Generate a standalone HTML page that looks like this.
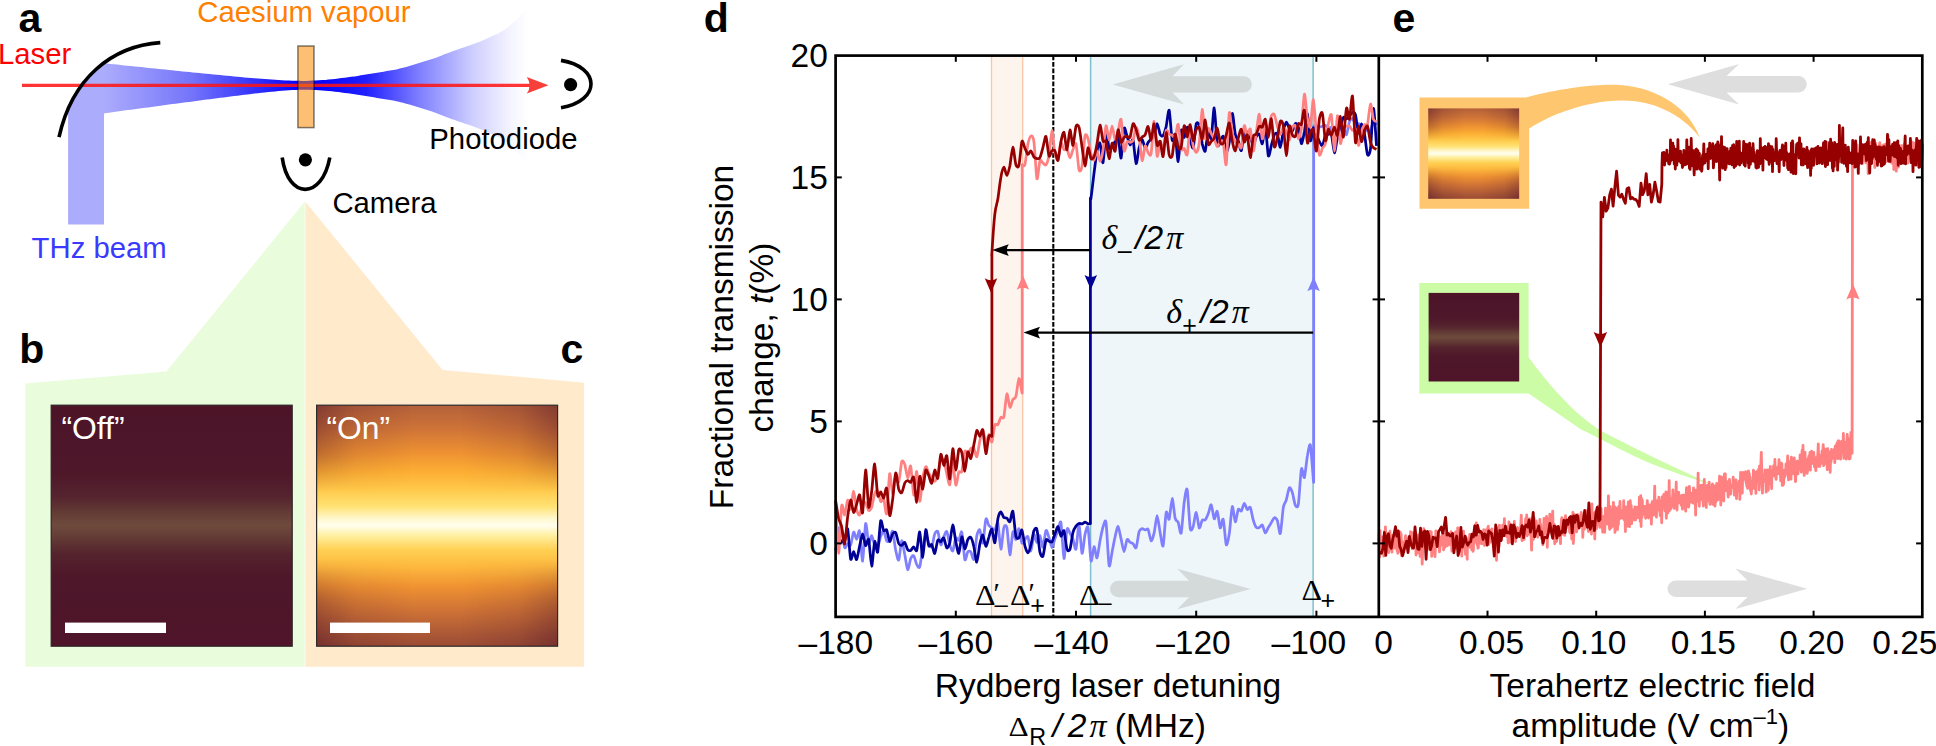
<!DOCTYPE html>
<html><head><meta charset="utf-8"><title>Figure</title>
<style>
html,body{margin:0;padding:0;background:#fff;}
svg{display:block;font-family:"Liberation Sans",Arial,Helvetica,sans-serif;}
.lbl{font-size:29.3px;}
.pl{font-size:41px;font-weight:bold;}
.tk{font-size:33.5px;}
.ser{font-family:"Liberation Serif","DejaVu Serif",serif;}
.sans{font-family:"Liberation Sans",Arial,Helvetica,sans-serif;}
</style></head><body>
<svg width="1936" height="746" viewBox="0 0 1936 746">
<defs>
<linearGradient id="gL" x1="103.5" y1="0" x2="300" y2="0" gradientUnits="userSpaceOnUse">
<stop offset="0" stop-color="#acacfc"/><stop offset="0.45" stop-color="#7474fb"/><stop offset="0.8" stop-color="#2c2cfd"/><stop offset="1" stop-color="#0000ff"/>
</linearGradient>
<linearGradient id="gR" x1="312" y1="0" x2="528" y2="0" gradientUnits="userSpaceOnUse">
<stop offset="0" stop-color="#0000ff"/><stop offset="0.25" stop-color="#2020ff"/><stop offset="0.5" stop-color="#8080ff"/><stop offset="0.75" stop-color="#d0d0ff"/><stop offset="0.93" stop-color="#f6f6ff"/><stop offset="1" stop-color="#ffffff"/>
</linearGradient>
<linearGradient id="gOn" x1="0" y1="0" x2="0" y2="1">
<stop offset="0" stop-color="#b4603a"/><stop offset="0.1" stop-color="#cf7438"/><stop offset="0.2" stop-color="#ee9232"/><stop offset="0.28" stop-color="#fdb034"/><stop offset="0.35" stop-color="#ffc94a"/><stop offset="0.42" stop-color="#ffe273"/><stop offset="0.47" stop-color="#fff7cc"/><stop offset="0.5" stop-color="#fffeee"/><stop offset="0.54" stop-color="#fff0a2"/><stop offset="0.6" stop-color="#ffd052"/><stop offset="0.67" stop-color="#fdb83e"/><stop offset="0.75" stop-color="#f09332"/><stop offset="0.85" stop-color="#cf7336"/><stop offset="0.95" stop-color="#ab5836"/><stop offset="1" stop-color="#9c4c35"/>
</linearGradient>
<linearGradient id="gSide" x1="0" y1="0" x2="1" y2="0">
<stop offset="0" stop-color="#55182a" stop-opacity="0.52"/><stop offset="0.16" stop-color="#55182a" stop-opacity="0.18"/><stop offset="0.4" stop-color="#55182a" stop-opacity="0"/><stop offset="0.6" stop-color="#55182a" stop-opacity="0"/><stop offset="0.84" stop-color="#55182a" stop-opacity="0.18"/><stop offset="1" stop-color="#55182a" stop-opacity="0.52"/>
</linearGradient>
<linearGradient id="gMaskV" x1="0" y1="0" x2="0" y2="1">
<stop offset="0" stop-color="#fff"/><stop offset="0.2" stop-color="#999"/><stop offset="0.36" stop-color="#000"/><stop offset="0.64" stop-color="#000"/><stop offset="0.8" stop-color="#999"/><stop offset="1" stop-color="#fff"/>
</linearGradient>
<mask id="mV" maskContentUnits="objectBoundingBox"><rect x="0" y="0" width="1" height="1" fill="url(#gMaskV)"/></mask>
<linearGradient id="gOff" x1="0" y1="0" x2="0" y2="1">
<stop offset="0" stop-color="#4d1428"/><stop offset="0.28" stop-color="#4e172a"/><stop offset="0.38" stop-color="#55242e"/><stop offset="0.45" stop-color="#643d36"/><stop offset="0.5" stop-color="#6e4a3c"/><stop offset="0.55" stop-color="#633b35"/><stop offset="0.62" stop-color="#54222d"/><stop offset="0.72" stop-color="#4e172a"/><stop offset="1" stop-color="#4f1429"/>
</linearGradient>
<clipPath id="cMir"><path d="M160.3,42.6 C112,46 72,78 59,137.2 L59,240 L320,240 L320,42.6 Z"/></clipPath>
</defs>
<rect width="1936" height="746" fill="#fff"/>

<g id="panel-a">
<g clip-path="url(#cMir)">
<rect x="50" y="40" width="54" height="184.5" fill="#acacfc"/>
<rect x="50" y="40" width="18.1" height="190" fill="#fff"/>
<path fill="url(#gL)" d="M103.6,63.2 L107.0,63.6 L110.5,63.9 L113.9,64.3 L117.3,64.6 L120.8,65.0 L124.2,65.4 L127.6,65.7 L131.0,66.1 L134.5,66.4 L137.9,66.8 L141.3,67.1 L144.8,67.5 L148.2,67.9 L151.6,68.2 L155.1,68.6 L158.5,68.9 L161.9,69.3 L165.3,69.6 L168.8,70.0 L172.2,70.3 L175.6,70.7 L179.1,71.0 L182.5,71.4 L185.9,71.7 L189.4,72.1 L192.8,72.4 L196.2,72.8 L199.7,73.1 L203.1,73.4 L206.5,73.8 L209.9,74.1 L213.4,74.5 L216.8,74.8 L220.2,75.1 L223.7,75.5 L227.1,75.8 L230.5,76.1 L234.0,76.4 L237.4,76.7 L240.8,77.1 L244.3,77.4 L247.7,77.7 L251.1,78.0 L254.5,78.3 L258.0,78.5 L261.4,78.8 L264.8,79.1 L268.3,79.3 L271.7,79.6 L275.1,79.8 L278.6,80.0 L282.0,80.2 L285.4,80.4 L288.8,80.5 L292.3,80.7 L295.7,80.8 L299.1,80.8 L302.6,80.9 L306.0,80.9 L306.0,89.7 L302.6,89.7 L299.1,89.8 L295.7,89.9 L292.3,90.1 L288.8,90.3 L285.4,90.5 L282.0,90.8 L278.6,91.1 L275.1,91.4 L271.7,91.7 L268.3,92.1 L264.8,92.5 L261.4,92.8 L258.0,93.2 L254.5,93.6 L251.1,94.0 L247.7,94.4 L244.3,94.8 L240.8,95.3 L237.4,95.7 L234.0,96.1 L230.5,96.5 L227.1,97.0 L223.7,97.4 L220.2,97.8 L216.8,98.3 L213.4,98.7 L209.9,99.2 L206.5,99.6 L203.1,100.1 L199.7,100.5 L196.2,101.0 L192.8,101.4 L189.4,101.9 L185.9,102.3 L182.5,102.8 L179.1,103.2 L175.6,103.7 L172.2,104.1 L168.8,104.6 L165.3,105.1 L161.9,105.5 L158.5,106.0 L155.1,106.4 L151.6,106.9 L148.2,107.4 L144.8,107.8 L141.3,108.3 L137.9,108.7 L134.5,109.2 L131.0,109.7 L127.6,110.1 L124.2,110.6 L120.8,111.1 L117.3,111.5 L113.9,112.0 L110.5,112.4 L107.0,112.9 L103.6,113.4 Z"/>
</g>
<path fill="url(#gR)" d="M306.0,80.9 L309.2,80.8 L312.5,80.6 L315.7,80.5 L318.9,80.3 L322.2,80.1 L325.4,79.9 L328.6,79.6 L331.9,79.3 L335.1,78.9 L338.3,78.5 L341.6,78.1 L344.8,77.7 L348.0,77.3 L351.2,76.8 L354.5,76.4 L357.7,75.9 L360.9,75.3 L364.2,74.8 L367.4,74.3 L370.6,73.8 L373.9,73.3 L377.1,72.7 L380.3,72.2 L383.6,71.7 L386.8,71.1 L390.0,70.6 L393.3,70.0 L396.5,69.4 L399.7,68.6 L403.0,67.8 L406.2,66.9 L409.4,66.0 L412.7,65.0 L415.9,64.0 L419.1,63.0 L422.3,62.1 L425.6,61.1 L428.8,60.1 L432.0,59.0 L435.3,57.9 L438.5,56.7 L441.7,55.4 L445.0,54.1 L448.2,52.9 L451.4,51.7 L454.7,50.5 L457.9,49.4 L461.1,48.3 L464.4,47.2 L467.6,46.1 L470.8,45.0 L474.1,43.8 L477.3,42.6 L480.5,41.4 L483.8,40.0 L487.0,38.6 L490.2,37.1 L493.4,35.6 L496.7,34.2 L499.9,32.5 L503.1,30.6 L506.4,28.4 L509.6,26.0 L512.8,23.1 L516.1,19.9 L519.3,16.4 L522.5,12.6 L525.8,9.4 L529.0,6.9 L529.0,163.7 L525.8,161.2 L522.5,158.0 L519.3,154.2 L516.1,150.7 L512.8,147.5 L509.6,144.6 L506.4,142.2 L503.1,140.0 L499.9,138.1 L496.7,136.4 L493.4,135.0 L490.2,133.5 L487.0,132.0 L483.8,130.6 L480.5,129.2 L477.3,128.0 L474.1,126.8 L470.8,125.6 L467.6,124.5 L464.4,123.4 L461.1,122.3 L457.9,121.2 L454.7,120.1 L451.4,118.9 L448.2,117.7 L445.0,116.5 L441.7,115.2 L438.5,113.9 L435.3,112.7 L432.0,111.6 L428.8,110.5 L425.6,109.5 L422.3,108.5 L419.1,107.6 L415.9,106.6 L412.7,105.6 L409.4,104.6 L406.2,103.7 L403.0,102.8 L399.7,102.0 L396.5,101.2 L393.3,100.6 L390.0,100.0 L386.8,99.5 L383.6,98.9 L380.3,98.4 L377.1,97.9 L373.9,97.3 L370.6,96.8 L367.4,96.3 L364.2,95.8 L360.9,95.3 L357.7,94.7 L354.5,94.2 L351.2,93.8 L348.0,93.3 L344.8,92.9 L341.6,92.5 L338.3,92.1 L335.1,91.7 L331.9,91.3 L328.6,91.0 L325.4,90.7 L322.2,90.5 L318.9,90.3 L315.7,90.1 L312.5,90.0 L309.2,89.8 L306.0,89.7 Z"/>
<line x1="22" y1="85.4" x2="531" y2="85.4" stroke="#ff1414" stroke-opacity="0.86" stroke-width="3.1"/>
<path fill="#f7403a" d="M548.5,85.2 L526.8,76.9 Q532.5,85.2 526.8,93.6 Z"/>
<rect x="297.9" y="46" width="16.1" height="81.6" fill="#fb8b02" fill-opacity="0.55" stroke="#000" stroke-opacity="0.5" stroke-width="1.5"/>
<path fill="none" stroke="#000" stroke-width="3.6" d="M160.3,42.6 C112,46 72,78 59,137.2"/>
<circle cx="570.6" cy="84.6" r="6.6" fill="#000"/>
<path fill="none" stroke="#000" stroke-width="3.6" d="M561,60.4 C601,67 601,101 561,107.8"/>
<circle cx="305.4" cy="159.8" r="6.6" fill="#000"/>
<path fill="none" stroke="#000" stroke-width="3.6" d="M282.2,157.5 C288,200 322,200 329.8,157.5"/>
<text class="pl" x="18.4" y="31.6">a</text>
<text class="lbl" x="-2.0" y="64.3" fill="#ff0000">Laser</text>
<text class="lbl" x="197.3" y="21.7" fill="#ff7f00">Caesium vapour</text>
<text class="lbl" x="429.3" y="149.3">Photodiode</text>
<text class="lbl" x="332.4" y="212.7">Camera</text>
<text class="lbl" x="31.6" y="257.8" fill="#3a3aff">THz beam</text>
</g>
<g id="panel-bc">
<path fill="#e9fddc" d="M304.7,201.7 L166.4,371.5 L25.3,383.5 L25.3,666.8 L304.7,666.8 Z"/>
<path fill="#ffeacb" d="M305.4,201.7 L442.6,370 L584.1,382.7 L584.1,666.8 L305.4,666.8 Z"/>
<rect x="51.2" y="405.2" width="241" height="241" fill="url(#gOff)" stroke="#2e2226" stroke-width="1.2"/>
<rect x="316.6" y="405.2" width="241" height="241" fill="url(#gOn)"/>
<rect x="316.6" y="405.2" width="241" height="241" fill="url(#gSide)" mask="url(#mV)"/>
<rect x="316.6" y="405.2" width="241" height="241" fill="none" stroke="#2e2a2a" stroke-width="1.2"/>
<rect x="65" y="622.6" width="101" height="10.4" fill="#fff"/>
<rect x="330" y="622.6" width="100" height="10.4" fill="#fff"/>
<text x="61.5" y="438.8" fill="#fff" style="font-size:31.8px">“Off”</text>
<text x="326.5" y="438.8" fill="#fff" style="font-size:31.8px">“On”</text>
<text class="pl" x="19.2" y="362.8">b</text>
<text class="pl" x="560.4" y="362.8">c</text>
</g>
<g id="panel-d">
<rect x="991.5" y="55.6" width="31.1" height="561.3" fill="#fef4ee"/>
<line x1="991.5" y1="55.6" x2="991.5" y2="616.9" stroke="#f8c6a4" stroke-width="1.3"/>
<line x1="1022.7" y1="55.6" x2="1022.7" y2="616.9" stroke="#f8c6a4" stroke-width="1.3"/>
<rect x="1090.4" y="55.6" width="222.8" height="561.3" fill="#eff6f9"/>
<line x1="1090.6" y1="55.6" x2="1090.6" y2="616.9" stroke="#7fc0cc" stroke-width="1.5"/>
<line x1="1313.1" y1="55.6" x2="1313.1" y2="616.9" stroke="#7fc0cc" stroke-width="1.5"/>
<path fill="#cfd3d5" fill-opacity="0.85" d="M1112.7,84.4 L1184.1,64.2 L1172.5,76.2 L1243.6,76.2 A8.2,8.2 0 0 1 1243.6,92.60000000000001 L1172.5,92.60000000000001 L1184.1,104.60000000000001 Z"/>
<path fill="#cfd3d5" fill-opacity="0.85" d="M1250.5,589 L1177.3,568.8 L1189,580.8 L1118.2,580.8 A8.2,8.2 0 0 0 1118.2,597.2 L1189,597.2 L1177.3,609.2 Z"/>
<line x1="1053.3" y1="55.6" x2="1053.3" y2="616.9" stroke="#000" stroke-width="2.1" stroke-dasharray="4.6 1.9"/>
<path fill="none" stroke="#8080ff" stroke-width="2.75" stroke-linejoin="round" d="M835.6,544.0 C836.0,542.1 837.9,530.4 838.6,528.6 C839.4,526.8 840.9,527.0 841.6,529.3 C842.4,531.7 843.9,545.7 844.6,547.5 C845.4,549.3 846.9,544.0 847.6,543.7 C848.4,543.4 849.9,546.5 850.6,545.1 C851.4,543.7 852.9,532.9 853.6,532.1 C854.4,531.4 855.9,539.5 856.6,539.3 C857.4,539.2 858.9,528.4 859.6,531.1 C860.4,533.8 861.9,562.1 862.6,561.1 C863.4,560.2 864.9,525.9 865.6,523.7 C866.4,521.4 867.9,541.8 868.7,543.3 C869.4,544.8 870.9,535.3 871.7,535.6 C872.4,535.8 873.9,543.7 874.7,545.2 C875.4,546.6 876.9,548.4 877.7,547.3 C878.4,546.2 879.9,538.5 880.7,536.5 C881.4,534.4 882.9,530.2 883.7,530.7 C884.4,531.3 885.9,539.8 886.7,541.0 C887.4,542.1 888.9,541.2 889.7,540.0 C890.4,538.8 891.9,529.9 892.7,531.2 C893.4,532.5 894.9,546.8 895.7,550.4 C896.5,554.0 898.0,561.3 898.7,560.1 C899.5,558.9 901.0,541.4 901.7,540.7 C902.5,540.0 904.0,550.7 904.7,554.3 C905.5,557.9 907.0,569.2 907.7,569.7 C908.5,570.3 910.0,560.3 910.7,558.5 C911.5,556.8 913.0,555.0 913.7,555.7 C914.5,556.4 916.0,563.0 916.7,564.4 C917.5,565.8 919.0,569.0 919.7,566.9 C920.5,564.8 922.0,551.7 922.7,547.6 C923.5,543.6 925.0,535.2 925.8,534.7 C926.5,534.2 928.0,542.1 928.8,543.7 C929.5,545.2 931.0,548.1 931.8,546.9 C932.5,545.6 934.0,535.7 934.8,533.8 C935.5,531.9 937.0,530.1 937.8,531.5 C938.5,532.8 940.0,544.2 940.8,544.9 C941.5,545.6 943.0,538.6 943.8,536.9 C944.5,535.3 946.0,530.5 946.8,531.5 C947.5,532.5 949.0,542.4 949.8,544.8 C950.5,547.2 952.0,551.8 952.8,550.9 C953.5,550.1 955.0,539.3 955.8,538.0 C956.6,536.7 958.1,541.0 958.8,540.3 C959.6,539.5 961.1,529.7 961.8,532.1 C962.6,534.5 964.1,557.1 964.8,559.5 C965.6,562.0 967.1,552.8 967.8,551.8 C968.6,550.8 970.1,550.8 970.8,551.8 C971.6,552.7 973.1,561.1 973.8,559.2 C974.6,557.2 976.1,539.6 976.8,535.9 C977.6,532.2 979.1,528.9 979.8,529.8 C980.6,530.7 982.1,544.5 982.8,543.1 C983.6,541.8 985.1,521.2 985.9,519.0 C986.6,516.8 988.1,524.4 988.9,525.6 C989.6,526.7 991.1,527.3 991.9,527.9 C992.6,528.4 994.1,530.5 994.9,530.0 C995.6,529.4 997.1,521.0 997.9,523.4 C998.6,525.7 1000.1,548.6 1000.9,549.1 C1001.6,549.6 1003.1,530.1 1003.9,527.4 C1004.6,524.7 1006.1,524.3 1006.9,527.8 C1007.6,531.2 1009.1,554.4 1009.9,554.9 C1010.6,555.5 1012.1,533.9 1012.9,532.0 C1013.6,530.1 1015.1,539.9 1015.9,539.5 C1016.7,539.1 1018.2,528.2 1018.9,528.6 C1019.7,529.1 1021.2,541.7 1021.9,543.0 C1022.7,544.4 1024.2,540.3 1024.9,539.6 C1025.7,538.8 1027.2,535.3 1027.9,536.8 C1028.7,538.2 1030.2,551.3 1030.9,551.0 C1031.7,550.7 1033.2,535.6 1033.9,534.6 C1034.7,533.5 1036.2,542.3 1036.9,542.5 C1037.7,542.6 1039.2,535.0 1039.9,535.6 C1040.7,536.2 1042.2,548.0 1042.9,547.3 C1043.7,546.7 1045.2,531.8 1046.0,530.5 C1046.7,529.3 1048.2,535.4 1049.0,537.5 C1049.7,539.6 1051.2,547.4 1052.0,547.6 C1052.7,547.7 1054.2,540.7 1055.0,538.6 C1055.7,536.4 1057.2,532.4 1058.0,530.4 C1058.7,528.4 1060.2,519.1 1061.0,522.7 C1061.7,526.2 1063.2,557.7 1064.0,558.5 C1064.7,559.4 1066.2,532.5 1067.0,529.4 C1067.7,526.2 1069.2,532.0 1070.0,533.2 C1070.7,534.4 1072.2,537.1 1073.0,539.1 C1073.7,541.1 1075.2,551.0 1076.0,549.1 C1076.8,547.2 1078.3,523.5 1079.0,524.0 C1079.8,524.6 1081.3,552.1 1082.0,553.4 C1082.8,554.7 1084.3,537.7 1085.0,534.4 C1085.8,531.2 1087.3,524.2 1088.0,527.5 C1088.8,530.8 1090.3,558.5 1091.0,560.9 C1091.8,563.3 1093.3,547.0 1094.0,546.6 C1094.8,546.3 1096.3,558.7 1097.0,557.9 C1097.8,557.2 1099.3,544.5 1100.0,540.7 C1100.8,536.8 1102.3,529.3 1103.0,527.0 C1103.8,524.8 1105.3,517.7 1106.0,522.5 C1106.8,527.3 1108.3,561.8 1109.1,565.5 C1109.8,569.1 1111.3,555.5 1112.1,551.9 C1112.8,548.4 1114.3,540.1 1115.1,536.9 C1115.8,533.7 1117.3,526.2 1118.1,526.4 C1118.8,526.7 1120.3,535.8 1121.1,538.9 C1121.8,542.1 1123.3,551.6 1124.1,551.6 C1124.8,551.7 1126.3,540.6 1127.1,539.5 C1127.8,538.3 1129.3,541.9 1130.1,542.4 C1130.8,542.9 1132.3,543.0 1133.1,543.7 C1133.8,544.3 1135.3,549.2 1136.1,547.7 C1136.9,546.2 1138.4,534.0 1139.1,531.6 C1139.9,529.2 1141.4,528.8 1142.1,528.6 C1142.9,528.4 1144.4,529.9 1145.1,530.0 C1145.9,530.1 1147.4,528.1 1148.1,529.5 C1148.9,530.8 1150.4,540.4 1151.1,540.9 C1151.9,541.3 1153.4,536.0 1154.1,532.9 C1154.9,529.8 1156.4,515.8 1157.1,515.7 C1157.9,515.7 1159.4,528.9 1160.1,532.6 C1160.9,536.4 1162.4,548.4 1163.1,545.9 C1163.9,543.4 1165.4,515.7 1166.2,512.4 C1166.9,509.1 1168.4,520.9 1169.2,519.2 C1169.9,517.5 1171.4,498.6 1172.2,498.5 C1172.9,498.4 1174.4,515.4 1175.2,518.4 C1175.9,521.4 1177.4,520.5 1178.2,522.3 C1178.9,524.2 1180.4,535.5 1181.2,533.0 C1181.9,530.6 1183.4,508.0 1184.2,502.5 C1184.9,497.1 1186.4,486.3 1187.2,489.5 C1187.9,492.7 1189.4,523.5 1190.2,528.2 C1190.9,532.8 1192.4,528.4 1193.2,526.5 C1193.9,524.5 1195.4,512.2 1196.2,512.4 C1197.0,512.6 1198.5,526.9 1199.2,527.9 C1200.0,528.9 1201.5,521.2 1202.2,520.2 C1203.0,519.1 1204.5,520.7 1205.2,519.9 C1206.0,519.1 1207.5,515.6 1208.2,513.8 C1209.0,511.9 1210.5,504.1 1211.2,504.8 C1212.0,505.4 1213.5,518.1 1214.2,518.9 C1215.0,519.7 1216.5,510.0 1217.2,511.2 C1218.0,512.3 1219.5,526.8 1220.2,527.9 C1221.0,528.9 1222.5,517.2 1223.2,519.3 C1224.0,521.4 1225.5,542.8 1226.2,544.7 C1227.0,546.5 1228.5,538.6 1229.3,533.8 C1230.0,529.1 1231.5,508.1 1232.3,506.6 C1233.0,505.1 1234.5,521.5 1235.3,521.9 C1236.0,522.2 1237.5,510.9 1238.3,509.5 C1239.0,508.1 1240.5,511.8 1241.3,511.0 C1242.0,510.2 1243.5,503.5 1244.3,503.3 C1245.0,503.1 1246.5,509.1 1247.3,509.6 C1248.0,510.1 1249.5,506.0 1250.3,507.4 C1251.0,508.7 1252.5,517.6 1253.3,520.1 C1254.0,522.6 1255.5,526.5 1256.3,527.4 C1257.1,528.3 1258.6,527.8 1259.3,527.5 C1260.1,527.2 1261.6,524.3 1262.3,525.0 C1263.1,525.7 1264.6,532.7 1265.3,533.0 C1266.1,533.3 1267.6,528.8 1268.3,527.5 C1269.1,526.3 1270.6,524.0 1271.3,522.7 C1272.1,521.5 1273.6,517.9 1274.3,517.7 C1275.1,517.4 1276.6,518.6 1277.3,520.6 C1278.1,522.6 1279.6,535.2 1280.3,533.5 C1281.1,531.9 1282.6,511.7 1283.3,507.5 C1284.1,503.3 1285.6,502.3 1286.3,499.8 C1287.1,497.3 1288.6,488.6 1289.4,487.7 C1290.1,486.8 1291.6,490.4 1292.4,492.6 C1293.1,494.8 1294.6,504.0 1295.4,505.4 C1296.1,506.9 1297.6,508.5 1298.4,503.9 C1299.1,499.4 1300.6,472.3 1301.4,469.0 C1302.1,465.7 1303.6,479.2 1304.4,477.6 C1305.1,476.0 1306.6,460.0 1307.4,456.0 C1308.1,451.9 1309.6,442.1 1310.4,445.2 C1311.1,448.3 1313.0,476.0 1313.4,480.4 C1313.8,484.8 1313.7,480.4 1313.7,480.4 L1313.7,125.9 C1314.0,125.9 1315.7,125.8 1316.4,125.9 C1317.1,126.0 1318.7,127.0 1319.4,127.0 C1320.2,127.1 1321.7,126.4 1322.4,126.2 C1323.2,126.0 1324.7,125.2 1325.4,125.4 C1326.2,125.7 1327.7,127.8 1328.4,128.2 C1329.2,128.6 1330.7,125.9 1331.4,128.3 C1332.2,130.8 1333.7,147.3 1334.4,147.9 C1335.2,148.5 1336.7,134.5 1337.4,133.5 C1338.2,132.5 1339.7,140.4 1340.4,139.9 C1341.2,139.3 1342.7,129.8 1343.4,129.2 C1344.2,128.5 1345.7,135.7 1346.5,134.7 C1347.2,133.7 1348.7,123.5 1349.5,121.5 C1350.2,119.5 1351.7,118.2 1352.5,118.5 C1353.2,118.8 1354.7,123.1 1355.5,123.7 C1356.2,124.4 1357.7,123.3 1358.5,123.6 C1359.2,123.9 1360.7,125.2 1361.5,126.2 C1362.2,127.3 1363.7,131.9 1364.5,132.2 C1365.2,132.5 1366.7,128.8 1367.5,128.7 C1368.2,128.7 1369.7,132.7 1370.5,131.8 C1371.2,130.8 1372.7,121.9 1373.5,121.1 C1374.2,120.2 1376.1,124.5 1376.5,125.0"/>
<path fill="none" stroke="#000096" stroke-width="2.75" stroke-linejoin="round" d="M835.6,550.0 C836.0,548.6 837.9,539.7 838.6,538.7 C839.4,537.7 840.9,541.5 841.6,541.8 C842.4,542.0 843.9,542.3 844.6,540.7 C845.4,539.1 846.9,526.5 847.6,528.8 C848.4,531.1 849.9,556.0 850.6,558.9 C851.4,561.8 852.9,551.6 853.6,551.7 C854.4,551.8 855.9,560.3 856.6,559.6 C857.4,558.8 858.9,549.3 859.6,546.1 C860.4,542.9 861.9,533.9 862.6,533.9 C863.4,533.8 864.9,544.8 865.6,545.6 C866.4,546.3 867.9,537.1 868.7,539.7 C869.4,542.3 870.9,565.8 871.7,566.1 C872.4,566.3 873.9,543.3 874.7,541.5 C875.4,539.8 876.9,554.5 877.7,552.0 C878.4,549.4 879.9,523.6 880.7,521.0 C881.4,518.3 882.9,529.4 883.7,530.6 C884.4,531.7 885.9,528.7 886.7,530.0 C887.4,531.4 888.9,541.0 889.7,541.5 C890.4,542.0 891.9,534.9 892.7,533.8 C893.4,532.7 894.9,531.5 895.7,532.7 C896.5,534.0 898.0,541.9 898.7,543.5 C899.5,545.1 901.0,545.5 901.7,545.4 C902.5,545.3 904.0,541.9 904.7,542.4 C905.5,543.0 907.0,548.6 907.7,549.6 C908.5,550.6 910.0,550.7 910.7,550.4 C911.5,550.0 913.0,546.8 913.7,546.8 C914.5,546.8 916.0,552.3 916.7,550.5 C917.5,548.7 919.0,531.2 919.7,532.0 C920.5,532.9 922.0,557.7 922.7,557.4 C923.5,557.1 925.0,531.2 925.8,529.7 C926.5,528.3 928.0,543.9 928.8,545.7 C929.5,547.6 931.0,543.7 931.8,544.6 C932.5,545.6 934.0,554.1 934.8,553.5 C935.5,552.9 937.0,541.6 937.8,540.1 C938.5,538.6 940.0,542.1 940.8,541.9 C941.5,541.6 943.0,537.2 943.8,538.0 C944.5,538.8 946.0,547.3 946.8,547.9 C947.5,548.5 949.0,545.7 949.8,542.8 C950.5,540.0 952.0,525.0 952.8,524.8 C953.5,524.7 955.0,538.0 955.8,541.6 C956.6,545.2 958.1,554.0 958.8,553.4 C959.6,552.8 961.1,537.4 961.8,536.8 C962.6,536.2 964.1,548.5 964.8,548.9 C965.6,549.2 967.1,541.1 967.8,539.6 C968.6,538.2 970.1,536.5 970.8,537.4 C971.6,538.2 973.1,543.4 973.8,546.5 C974.6,549.6 976.1,562.5 976.8,562.2 C977.6,561.9 979.1,547.5 979.8,544.1 C980.6,540.7 982.1,534.7 982.8,535.0 C983.6,535.3 985.1,546.2 985.9,546.4 C986.6,546.7 988.1,539.3 988.9,537.1 C989.6,534.9 991.1,528.4 991.9,529.1 C992.6,529.8 994.1,544.0 994.9,542.7 C995.6,541.4 997.1,522.7 997.9,518.8 C998.6,515.0 1000.1,512.1 1000.9,511.9 C1001.6,511.8 1003.1,516.8 1003.9,517.6 C1004.6,518.3 1006.1,517.6 1006.9,518.2 C1007.6,518.7 1009.1,522.6 1009.9,521.7 C1010.6,520.9 1012.1,509.6 1012.9,511.4 C1013.6,513.2 1015.1,532.8 1015.9,536.1 C1016.7,539.4 1018.2,538.7 1018.9,537.9 C1019.7,537.2 1021.2,529.0 1021.9,530.0 C1022.7,531.0 1024.2,543.1 1024.9,545.9 C1025.7,548.8 1027.2,552.9 1027.9,552.8 C1028.7,552.7 1030.2,547.9 1030.9,545.1 C1031.7,542.4 1033.2,532.7 1033.9,530.8 C1034.7,528.8 1036.2,526.8 1036.9,529.4 C1037.7,532.1 1039.2,548.5 1039.9,551.9 C1040.7,555.3 1042.2,557.7 1042.9,556.2 C1043.7,554.8 1045.2,542.0 1046.0,540.1 C1046.7,538.2 1048.2,541.0 1049.0,541.2 C1049.7,541.4 1051.2,542.7 1052.0,541.8 C1052.7,540.9 1054.2,535.8 1055.0,533.9 C1055.7,532.0 1057.2,526.2 1058.0,526.5 C1058.7,526.7 1060.2,535.6 1061.0,536.2 C1061.7,536.7 1063.2,529.2 1064.0,530.8 C1064.7,532.5 1066.2,546.9 1067.0,549.2 C1067.7,551.5 1069.2,551.4 1070.0,549.3 C1070.7,547.2 1072.2,535.3 1073.0,532.4 C1073.7,529.5 1075.2,527.2 1076.0,526.1 C1076.8,525.0 1078.3,523.8 1079.0,523.5 C1079.8,523.2 1081.3,523.9 1082.0,523.8 C1082.8,523.6 1084.3,522.2 1085.0,522.2 C1085.8,522.2 1087.3,523.5 1088.0,523.7 C1088.7,523.9 1090.1,523.7 1090.4,523.7 L1090.4,198.0 C1090.5,198.0 1090.6,201.1 1091.0,198.0 C1091.5,194.9 1093.3,179.2 1094.0,173.3 C1094.8,167.4 1096.3,154.7 1097.0,151.0 C1097.8,147.2 1099.3,141.7 1100.0,143.1 C1100.8,144.6 1102.3,164.3 1103.0,162.7 C1103.8,161.1 1105.3,132.3 1106.0,130.5 C1106.8,128.7 1108.3,146.3 1109.1,148.4 C1109.8,150.4 1111.3,147.7 1112.1,146.8 C1112.8,146.0 1114.3,142.9 1115.1,141.5 C1115.8,140.0 1117.3,133.3 1118.1,135.4 C1118.8,137.4 1120.3,158.9 1121.1,158.1 C1121.8,157.2 1123.3,131.1 1124.1,128.4 C1124.8,125.7 1126.3,134.3 1127.1,136.4 C1127.8,138.4 1129.3,144.4 1130.1,144.9 C1130.8,145.3 1132.3,137.8 1133.1,140.2 C1133.8,142.5 1135.3,162.5 1136.1,163.5 C1136.9,164.4 1138.4,150.9 1139.1,147.8 C1139.9,144.8 1141.4,138.9 1142.1,139.0 C1142.9,139.0 1144.4,147.7 1145.1,148.2 C1145.9,148.6 1147.4,143.6 1148.1,142.4 C1148.9,141.3 1150.4,139.7 1151.1,138.9 C1151.9,138.0 1153.4,137.3 1154.1,135.3 C1154.9,133.4 1156.4,123.6 1157.1,123.5 C1157.9,123.4 1159.4,132.7 1160.1,134.3 C1160.9,135.8 1162.4,136.7 1163.1,135.7 C1163.9,134.7 1165.4,129.6 1166.2,126.4 C1166.9,123.2 1168.4,108.6 1169.2,110.3 C1169.9,112.1 1171.4,137.2 1172.2,140.2 C1172.9,143.2 1174.4,131.8 1175.2,134.5 C1175.9,137.1 1177.4,162.0 1178.2,161.5 C1178.9,161.0 1180.4,133.4 1181.2,130.4 C1181.9,127.3 1183.4,137.8 1184.2,137.4 C1184.9,136.9 1186.4,126.9 1187.2,127.1 C1187.9,127.4 1189.4,136.9 1190.2,139.4 C1190.9,142.0 1192.4,149.6 1193.2,147.7 C1193.9,145.8 1195.4,127.1 1196.2,124.2 C1197.0,121.4 1198.5,122.7 1199.2,125.1 C1200.0,127.5 1201.5,140.3 1202.2,143.6 C1203.0,146.8 1204.5,152.7 1205.2,151.1 C1206.0,149.4 1207.5,132.0 1208.2,130.4 C1209.0,128.8 1210.5,141.1 1211.2,138.3 C1212.0,135.5 1213.5,107.1 1214.2,107.9 C1215.0,108.6 1216.5,139.8 1217.2,144.2 C1218.0,148.5 1219.5,143.4 1220.2,142.4 C1221.0,141.4 1222.5,135.1 1223.2,136.3 C1224.0,137.5 1225.5,151.4 1226.2,152.1 C1227.0,152.8 1228.5,146.9 1229.3,142.1 C1230.0,137.3 1231.5,114.5 1232.3,113.5 C1233.0,112.5 1234.5,130.8 1235.3,134.2 C1236.0,137.7 1237.5,139.0 1238.3,141.0 C1239.0,143.1 1240.5,151.7 1241.3,150.6 C1242.0,149.4 1243.5,134.0 1244.3,131.7 C1245.0,129.4 1246.5,131.6 1247.3,132.3 C1248.0,133.0 1249.5,136.0 1250.3,137.6 C1251.0,139.1 1252.5,145.0 1253.3,144.9 C1254.0,144.8 1255.5,137.9 1256.3,136.6 C1257.1,135.2 1258.6,133.3 1259.3,134.2 C1260.1,135.1 1261.6,144.6 1262.3,143.7 C1263.1,142.7 1264.6,125.2 1265.3,126.7 C1266.1,128.2 1267.6,153.4 1268.3,155.7 C1269.1,158.1 1270.6,148.2 1271.3,145.6 C1272.1,143.0 1273.6,136.2 1274.3,134.8 C1275.1,133.3 1276.6,132.4 1277.3,134.0 C1278.1,135.5 1279.6,147.7 1280.3,147.3 C1281.1,146.9 1282.6,134.0 1283.3,130.9 C1284.1,127.8 1285.6,122.5 1286.3,122.2 C1287.1,121.9 1288.6,127.4 1289.4,128.5 C1290.1,129.6 1291.6,131.4 1292.4,130.8 C1293.1,130.1 1294.6,123.9 1295.4,123.5 C1296.1,123.1 1297.6,124.9 1298.4,127.4 C1299.1,130.0 1300.6,143.2 1301.4,143.7 C1302.1,144.3 1303.6,135.5 1304.4,131.8 C1305.1,128.0 1306.6,112.6 1307.4,113.8 C1308.1,114.9 1309.6,138.9 1310.4,140.7 C1311.1,142.4 1312.6,128.6 1313.4,127.8 C1314.1,127.0 1315.6,132.3 1316.4,134.1 C1317.2,135.8 1318.7,140.3 1319.4,141.7 C1320.2,143.2 1321.7,146.3 1322.4,145.5 C1323.2,144.7 1324.7,136.7 1325.4,135.3 C1326.2,134.0 1327.7,134.5 1328.4,134.4 C1329.2,134.3 1330.7,132.1 1331.4,134.4 C1332.2,136.7 1333.7,152.4 1334.4,152.7 C1335.2,153.1 1336.7,140.4 1337.4,137.2 C1338.2,133.9 1339.7,129.3 1340.4,126.8 C1341.2,124.3 1342.7,118.4 1343.4,117.5 C1344.2,116.5 1345.7,119.1 1346.5,118.9 C1347.2,118.8 1348.7,116.9 1349.5,116.1 C1350.2,115.3 1351.7,112.5 1352.5,112.4 C1353.2,112.2 1354.7,112.2 1355.5,114.8 C1356.2,117.4 1357.7,131.8 1358.5,133.0 C1359.2,134.1 1360.7,123.8 1361.5,123.9 C1362.2,124.0 1363.7,130.2 1364.5,134.0 C1365.2,137.9 1366.7,152.7 1367.5,154.6 C1368.2,156.4 1369.7,154.5 1370.5,148.7 C1371.2,143.0 1372.7,108.7 1373.5,108.4 C1374.2,108.0 1376.1,141.1 1376.5,145.8"/>
<path fill="none" stroke="#ff8080" stroke-width="2.75" stroke-linejoin="round" d="M835.6,501.4 C836.0,507.8 837.9,552.6 838.6,553.2 C839.4,553.8 840.9,510.7 841.6,505.9 C842.4,501.1 843.9,515.6 844.6,514.9 C845.4,514.2 846.9,500.9 847.6,500.2 C848.4,499.5 849.9,510.4 850.6,509.3 C851.4,508.1 852.9,491.0 853.6,491.1 C854.4,491.1 855.9,506.7 856.6,509.7 C857.4,512.7 858.9,515.9 859.6,515.0 C860.4,514.0 861.9,503.6 862.6,502.1 C863.4,500.6 864.9,502.0 865.6,503.0 C866.4,504.1 867.9,510.0 868.7,510.5 C869.4,511.0 870.9,509.3 871.7,507.2 C872.4,505.1 873.9,495.8 874.7,493.7 C875.4,491.7 876.9,489.8 877.7,490.8 C878.4,491.7 879.9,500.6 880.7,501.5 C881.4,502.5 882.9,497.0 883.7,498.5 C884.4,500.0 885.9,516.7 886.7,513.6 C887.4,510.5 888.9,476.2 889.7,473.8 C890.4,471.4 891.9,494.0 892.7,494.1 C893.4,494.3 894.9,476.3 895.7,474.8 C896.5,473.3 898.0,483.7 898.7,482.1 C899.5,480.4 901.0,463.9 901.7,461.7 C902.5,459.5 904.0,462.3 904.7,464.3 C905.5,466.3 907.0,477.6 907.7,477.8 C908.5,478.0 910.0,463.8 910.7,466.0 C911.5,468.1 913.0,494.4 913.7,495.1 C914.5,495.7 916.0,470.6 916.7,471.4 C917.5,472.1 919.0,500.3 919.7,501.2 C920.5,502.0 922.0,482.3 922.7,478.0 C923.5,473.6 925.0,467.2 925.8,466.6 C926.5,465.9 928.0,471.7 928.8,473.1 C929.5,474.5 931.0,476.7 931.8,477.8 C932.5,478.8 934.0,481.6 934.8,481.3 C935.5,481.0 937.0,478.0 937.8,475.2 C938.5,472.5 940.0,461.0 940.8,459.2 C941.5,457.4 943.0,459.0 943.8,460.8 C944.5,462.6 946.0,470.6 946.8,473.6 C947.5,476.6 949.0,486.1 949.8,484.7 C950.5,483.4 952.0,462.6 952.8,462.7 C953.5,462.7 955.0,483.9 955.8,485.1 C956.6,486.3 958.1,473.9 958.8,472.1 C959.6,470.4 961.1,473.8 961.8,471.3 C962.6,468.7 964.1,453.5 964.8,451.4 C965.6,449.2 967.1,454.3 967.8,454.0 C968.6,453.6 970.1,449.3 970.8,448.6 C971.6,447.9 973.1,447.4 973.8,448.4 C974.6,449.4 976.1,457.6 976.8,456.7 C977.6,455.8 979.1,444.4 979.8,441.0 C980.6,437.6 982.1,428.9 982.8,429.2 C983.6,429.5 985.1,442.9 985.9,443.5 C986.6,444.2 988.1,434.6 988.9,434.4 C989.6,434.2 991.1,443.2 991.9,442.0 C992.6,440.8 994.1,427.0 994.9,424.9 C995.6,422.7 997.1,425.7 997.9,424.7 C998.6,423.8 1000.1,418.4 1000.9,417.4 C1001.6,416.4 1003.1,419.7 1003.9,416.8 C1004.6,413.8 1006.1,395.1 1006.9,393.9 C1007.6,392.7 1009.1,406.7 1009.9,407.4 C1010.6,408.1 1012.1,400.9 1012.9,399.5 C1013.6,398.2 1015.1,399.1 1015.9,396.4 C1016.7,393.8 1018.2,379.0 1018.9,378.5 C1019.7,378.0 1021.5,390.5 1021.9,392.3 C1022.3,394.0 1022.2,392.3 1022.2,392.3 L1022.2,164.6 C1022.5,164.6 1024.2,167.2 1024.9,164.6 C1025.6,162.0 1027.2,147.7 1027.9,144.1 C1028.7,140.5 1030.2,136.4 1030.9,136.1 C1031.7,135.8 1033.2,136.1 1033.9,141.5 C1034.7,146.8 1036.2,176.3 1036.9,178.7 C1037.7,181.1 1039.2,162.7 1039.9,160.7 C1040.7,158.7 1042.2,162.5 1042.9,163.0 C1043.7,163.5 1045.2,165.7 1046.0,164.8 C1046.7,163.9 1048.2,160.0 1049.0,155.8 C1049.7,151.5 1051.2,130.7 1052.0,130.5 C1052.7,130.3 1054.2,150.4 1055.0,153.9 C1055.7,157.5 1057.2,160.1 1058.0,158.7 C1058.7,157.2 1060.2,143.8 1061.0,142.7 C1061.7,141.6 1063.2,148.9 1064.0,149.7 C1064.7,150.5 1066.2,147.9 1067.0,149.0 C1067.7,150.0 1069.2,157.7 1070.0,157.8 C1070.7,157.9 1072.2,151.4 1073.0,149.6 C1073.7,147.9 1075.2,141.4 1076.0,143.9 C1076.8,146.5 1078.3,167.0 1079.0,169.8 C1079.8,172.5 1081.3,170.5 1082.0,166.3 C1082.8,162.1 1084.3,139.4 1085.0,135.9 C1085.8,132.5 1087.3,136.3 1088.0,138.5 C1088.8,140.8 1090.3,151.2 1091.0,153.9 C1091.8,156.6 1093.3,160.6 1094.0,160.3 C1094.8,159.9 1096.3,150.8 1097.0,151.0 C1097.8,151.1 1099.3,161.5 1100.0,161.4 C1100.8,161.4 1102.3,154.8 1103.0,150.3 C1103.8,145.9 1105.3,127.1 1106.0,125.8 C1106.8,124.5 1108.3,140.2 1109.1,140.2 C1109.8,140.2 1111.3,126.1 1112.1,126.0 C1112.8,125.9 1114.3,138.7 1115.1,139.4 C1115.8,140.0 1117.3,133.9 1118.1,131.4 C1118.8,128.9 1120.3,117.1 1121.1,119.5 C1121.8,121.9 1123.3,147.9 1124.1,150.7 C1124.8,153.5 1126.3,142.7 1127.1,141.7 C1127.8,140.6 1129.3,142.6 1130.1,142.4 C1130.8,142.2 1132.3,142.1 1133.1,140.2 C1133.8,138.3 1135.3,127.8 1136.1,127.4 C1136.9,127.0 1138.4,132.9 1139.1,137.0 C1139.9,141.1 1141.4,159.3 1142.1,160.5 C1142.9,161.6 1144.4,146.8 1145.1,145.9 C1145.9,144.9 1147.4,151.7 1148.1,152.7 C1148.9,153.7 1150.4,157.5 1151.1,153.6 C1151.9,149.7 1153.4,121.0 1154.1,121.3 C1154.9,121.7 1156.4,153.8 1157.1,156.2 C1157.9,158.7 1159.4,142.0 1160.1,141.2 C1160.9,140.5 1162.4,151.7 1163.1,150.4 C1163.9,149.1 1165.4,132.5 1166.2,130.5 C1166.9,128.5 1168.4,133.5 1169.2,134.1 C1169.9,134.7 1171.4,134.8 1172.2,135.2 C1172.9,135.6 1174.4,138.7 1175.2,137.3 C1175.9,136.0 1177.4,123.0 1178.2,124.4 C1178.9,125.9 1180.4,146.0 1181.2,149.0 C1181.9,152.0 1183.4,147.8 1184.2,148.5 C1184.9,149.2 1186.4,157.1 1187.2,154.6 C1187.9,152.0 1189.4,129.0 1190.2,127.9 C1190.9,126.8 1192.4,142.6 1193.2,145.6 C1193.9,148.7 1195.4,152.6 1196.2,152.4 C1197.0,152.1 1198.5,148.8 1199.2,143.5 C1200.0,138.1 1201.5,110.0 1202.2,109.4 C1203.0,108.8 1204.5,136.1 1205.2,138.4 C1206.0,140.8 1207.5,129.0 1208.2,128.4 C1209.0,127.7 1210.5,132.1 1211.2,133.5 C1212.0,134.8 1213.5,137.5 1214.2,139.2 C1215.0,140.8 1216.5,146.2 1217.2,146.6 C1218.0,146.9 1219.5,142.4 1220.2,141.9 C1221.0,141.3 1222.5,139.3 1223.2,142.2 C1224.0,145.0 1225.5,168.1 1226.2,164.5 C1227.0,160.8 1228.5,116.8 1229.3,112.9 C1230.0,109.0 1231.5,129.6 1232.3,133.2 C1233.0,136.8 1234.5,140.6 1235.3,141.9 C1236.0,143.2 1237.5,142.9 1238.3,143.6 C1239.0,144.3 1240.5,149.9 1241.3,147.7 C1242.0,145.5 1243.5,127.1 1244.3,125.7 C1245.0,124.4 1246.5,136.3 1247.3,136.7 C1248.0,137.1 1249.5,127.3 1250.3,129.1 C1251.0,130.9 1252.5,150.7 1253.3,151.1 C1254.0,151.5 1255.5,136.9 1256.3,132.3 C1257.1,127.7 1258.6,113.4 1259.3,114.2 C1260.1,115.0 1261.6,137.5 1262.3,138.8 C1263.1,140.1 1264.6,125.6 1265.3,124.6 C1266.1,123.5 1267.6,131.6 1268.3,130.5 C1269.1,129.5 1270.6,117.9 1271.3,115.9 C1272.1,113.9 1273.6,113.4 1274.3,114.7 C1275.1,115.9 1276.6,123.5 1277.3,126.0 C1278.1,128.5 1279.6,134.5 1280.3,134.6 C1281.1,134.8 1282.6,127.7 1283.3,127.3 C1284.1,126.9 1285.6,130.2 1286.3,131.8 C1287.1,133.3 1288.6,140.5 1289.4,139.9 C1290.1,139.4 1291.6,129.1 1292.4,127.3 C1293.1,125.6 1294.6,124.5 1295.4,125.9 C1296.1,127.3 1297.6,138.3 1298.4,138.6 C1299.1,138.9 1300.6,134.0 1301.4,128.4 C1302.1,122.9 1303.6,95.4 1304.4,94.2 C1305.1,92.9 1306.6,114.2 1307.4,118.3 C1308.1,122.4 1309.6,129.2 1310.4,126.8 C1311.1,124.5 1312.6,99.0 1313.4,99.7 C1314.1,100.4 1315.6,125.7 1316.4,132.6 C1317.2,139.5 1318.7,152.9 1319.4,154.9 C1320.2,156.9 1321.7,149.6 1322.4,148.2 C1323.2,146.8 1324.7,146.7 1325.4,143.7 C1326.2,140.6 1327.7,127.0 1328.4,123.5 C1329.2,119.9 1330.7,111.9 1331.4,115.3 C1332.2,118.8 1333.7,151.1 1334.4,151.2 C1335.2,151.2 1336.7,116.5 1337.4,115.6 C1338.2,114.6 1339.7,142.0 1340.4,143.5 C1341.2,145.1 1342.7,130.3 1343.4,128.1 C1344.2,126.0 1345.7,126.4 1346.5,126.2 C1347.2,125.9 1348.7,125.6 1349.5,126.1 C1350.2,126.7 1351.7,130.1 1352.5,130.4 C1353.2,130.8 1354.7,127.2 1355.5,129.1 C1356.2,131.0 1357.7,145.2 1358.5,145.5 C1359.2,145.8 1360.7,134.2 1361.5,131.6 C1362.2,129.0 1363.7,125.5 1364.5,124.6 C1365.2,123.7 1366.7,127.1 1367.5,124.5 C1368.2,121.9 1369.7,104.6 1370.5,104.0 C1371.2,103.4 1372.7,117.3 1373.5,119.4 C1374.2,121.6 1376.1,121.2 1376.5,121.4"/>
<path fill="none" stroke="#960000" stroke-width="2.75" stroke-linejoin="round" d="M835.6,500.6 C836.0,502.9 837.9,515.3 838.6,518.5 C839.4,521.7 840.9,523.2 841.6,526.4 C842.4,529.6 843.9,545.1 844.6,544.0 C845.4,542.8 846.9,522.7 847.6,517.2 C848.4,511.7 849.9,500.5 850.6,500.0 C851.4,499.4 852.9,512.0 853.6,512.5 C854.4,513.1 855.9,506.5 856.6,504.3 C857.4,502.1 858.9,493.9 859.6,494.9 C860.4,496.0 861.9,515.8 862.6,512.7 C863.4,509.6 864.9,470.7 865.6,470.0 C866.4,469.3 867.9,504.4 868.7,507.1 C869.4,509.7 870.9,496.7 871.7,491.3 C872.4,485.9 873.9,463.4 874.7,463.9 C875.4,464.4 876.9,491.9 877.7,495.4 C878.4,498.8 879.9,491.5 880.7,491.8 C881.4,492.1 882.9,498.5 883.7,498.0 C884.4,497.5 885.9,486.0 886.7,488.2 C887.4,490.4 888.9,514.2 889.7,515.6 C890.4,517.0 891.9,504.4 892.7,499.1 C893.4,493.7 894.9,474.2 895.7,473.0 C896.5,471.8 898.0,486.8 898.7,489.2 C899.5,491.7 901.0,493.5 901.7,492.7 C902.5,491.9 904.0,484.8 904.7,483.2 C905.5,481.7 907.0,480.6 907.7,480.5 C908.5,480.4 910.0,482.8 910.7,482.4 C911.5,482.0 913.0,474.9 913.7,477.4 C914.5,479.9 916.0,502.5 916.7,502.4 C917.5,502.3 919.0,478.1 919.7,476.5 C920.5,474.8 922.0,489.9 922.7,489.1 C923.5,488.3 925.0,471.8 925.8,470.2 C926.5,468.5 928.0,474.1 928.8,475.7 C929.5,477.4 931.0,484.0 931.8,483.3 C932.5,482.6 934.0,470.6 934.8,470.0 C935.5,469.4 937.0,480.3 937.8,478.3 C938.5,476.4 940.0,456.0 940.8,454.4 C941.5,452.8 943.0,465.4 943.8,465.5 C944.5,465.7 946.0,454.2 946.8,455.8 C947.5,457.5 949.0,479.7 949.8,478.8 C950.5,477.9 952.0,449.9 952.8,448.8 C953.5,447.7 955.0,470.0 955.8,470.1 C956.6,470.2 958.1,451.9 958.8,449.7 C959.6,447.5 961.1,450.0 961.8,452.7 C962.6,455.4 964.1,471.3 964.8,471.2 C965.6,471.1 967.1,453.4 967.8,451.9 C968.6,450.3 970.1,459.4 970.8,458.5 C971.6,457.6 973.1,448.5 973.8,445.0 C974.6,441.5 976.1,431.7 976.8,430.6 C977.6,429.5 979.1,436.4 979.8,436.4 C980.6,436.3 982.1,427.9 982.8,430.1 C983.6,432.2 985.1,452.8 985.9,453.6 C986.6,454.4 988.1,438.4 988.9,436.3 C989.6,434.1 991.5,436.3 991.9,436.3 L991.9,253.3 C991.9,253.3 991.5,258.2 991.9,253.3 C992.2,248.3 994.1,220.4 994.9,213.6 C995.6,206.8 997.1,203.4 997.9,198.8 C998.6,194.3 1000.1,181.1 1000.9,177.2 C1001.6,173.2 1003.1,167.5 1003.9,167.2 C1004.6,167.0 1006.1,175.7 1006.9,175.5 C1007.6,175.3 1009.1,169.3 1009.9,165.8 C1010.6,162.2 1012.1,147.2 1012.9,147.0 C1013.6,146.9 1015.1,162.4 1015.9,164.7 C1016.7,167.0 1018.2,168.2 1018.9,165.3 C1019.7,162.4 1021.2,143.6 1021.9,141.4 C1022.7,139.3 1024.2,146.5 1024.9,148.1 C1025.7,149.7 1027.2,154.0 1027.9,154.4 C1028.7,154.7 1030.2,150.6 1030.9,150.9 C1031.7,151.3 1033.2,156.0 1033.9,157.0 C1034.7,157.9 1036.2,158.5 1036.9,158.6 C1037.7,158.7 1039.2,159.0 1039.9,157.6 C1040.7,156.2 1042.2,150.3 1042.9,147.6 C1043.7,145.0 1045.2,135.4 1046.0,136.4 C1046.7,137.5 1048.2,154.2 1049.0,156.0 C1049.7,157.8 1051.2,151.3 1052.0,150.7 C1052.7,150.1 1054.2,149.6 1055.0,150.8 C1055.7,152.1 1057.2,161.6 1058.0,160.5 C1058.7,159.3 1060.2,144.9 1061.0,141.4 C1061.7,137.8 1063.2,131.3 1064.0,132.4 C1064.7,133.4 1066.2,150.2 1067.0,149.9 C1067.7,149.6 1069.2,130.5 1070.0,130.0 C1070.7,129.4 1072.2,145.8 1073.0,145.4 C1073.7,145.0 1075.2,128.8 1076.0,126.5 C1076.8,124.2 1078.3,124.6 1079.0,127.1 C1079.8,129.6 1081.3,141.8 1082.0,146.7 C1082.8,151.6 1084.3,166.0 1085.0,166.1 C1085.8,166.2 1087.3,148.7 1088.0,147.8 C1088.8,146.9 1090.3,157.5 1091.0,158.6 C1091.8,159.7 1093.3,158.5 1094.0,156.6 C1094.8,154.8 1096.3,147.7 1097.0,143.7 C1097.8,139.8 1099.3,125.4 1100.0,125.1 C1100.8,124.7 1102.3,138.9 1103.0,140.9 C1103.8,143.0 1105.3,139.4 1106.0,141.6 C1106.8,143.8 1108.3,158.5 1109.1,158.7 C1109.8,158.9 1111.3,144.1 1112.1,143.2 C1112.8,142.2 1114.3,152.7 1115.1,151.1 C1115.8,149.4 1117.3,130.9 1118.1,129.8 C1118.8,128.7 1120.3,141.4 1121.1,142.3 C1121.8,143.2 1123.3,137.9 1124.1,137.2 C1124.8,136.5 1126.3,136.4 1127.1,136.4 C1127.8,136.4 1129.3,138.7 1130.1,137.1 C1130.8,135.5 1132.3,124.7 1133.1,123.7 C1133.8,122.8 1135.3,127.5 1136.1,129.5 C1136.9,131.6 1138.4,139.2 1139.1,140.1 C1139.9,141.1 1141.4,137.8 1142.1,137.1 C1142.9,136.5 1144.4,136.1 1145.1,134.8 C1145.9,133.4 1147.4,125.9 1148.1,126.5 C1148.9,127.2 1150.4,140.4 1151.1,140.0 C1151.9,139.7 1153.4,123.1 1154.1,123.8 C1154.9,124.5 1156.4,143.2 1157.1,145.4 C1157.9,147.6 1159.4,139.9 1160.1,141.3 C1160.9,142.7 1162.4,157.7 1163.1,156.6 C1163.9,155.5 1165.4,132.7 1166.2,132.5 C1166.9,132.3 1168.4,152.1 1169.2,155.0 C1169.9,157.9 1171.4,158.4 1172.2,155.8 C1172.9,153.2 1174.4,135.3 1175.2,134.3 C1175.9,133.2 1177.4,146.0 1178.2,147.7 C1178.9,149.3 1180.4,150.1 1181.2,147.4 C1181.9,144.6 1183.4,127.0 1184.2,125.7 C1184.9,124.4 1186.4,137.2 1187.2,137.1 C1187.9,137.0 1189.4,124.3 1190.2,124.7 C1190.9,125.2 1192.4,140.1 1193.2,140.7 C1193.9,141.3 1195.4,131.4 1196.2,129.7 C1197.0,128.1 1198.5,126.2 1199.2,127.4 C1200.0,128.6 1201.5,140.3 1202.2,139.4 C1203.0,138.5 1204.5,119.4 1205.2,119.9 C1206.0,120.5 1207.5,141.2 1208.2,143.9 C1209.0,146.6 1210.5,142.1 1211.2,141.4 C1212.0,140.7 1213.5,140.0 1214.2,138.3 C1215.0,136.7 1216.5,127.6 1217.2,128.1 C1218.0,128.6 1219.5,140.5 1220.2,142.5 C1221.0,144.4 1222.5,144.4 1223.2,143.5 C1224.0,142.5 1225.5,137.4 1226.2,134.8 C1227.0,132.2 1228.5,122.2 1229.3,123.0 C1230.0,123.8 1231.5,137.8 1232.3,141.3 C1233.0,144.8 1234.5,151.3 1235.3,150.9 C1236.0,150.5 1237.5,140.8 1238.3,138.0 C1239.0,135.3 1240.5,128.7 1241.3,129.2 C1242.0,129.7 1243.5,141.4 1244.3,142.1 C1245.0,142.8 1246.5,132.9 1247.3,134.9 C1248.0,136.9 1249.5,157.6 1250.3,157.7 C1251.0,157.9 1252.5,139.2 1253.3,136.3 C1254.0,133.3 1255.5,135.4 1256.3,134.2 C1257.1,132.9 1258.6,127.1 1259.3,126.2 C1260.1,125.3 1261.6,127.9 1262.3,127.1 C1263.1,126.2 1264.6,118.0 1265.3,119.3 C1266.1,120.6 1267.6,137.4 1268.3,137.4 C1269.1,137.3 1270.6,117.6 1271.3,118.8 C1272.1,120.0 1273.6,144.4 1274.3,146.7 C1275.1,149.1 1276.6,141.0 1277.3,137.9 C1278.1,134.7 1279.6,123.0 1280.3,121.4 C1281.1,119.9 1282.6,121.4 1283.3,125.7 C1284.1,130.0 1285.6,155.5 1286.3,155.6 C1287.1,155.6 1288.6,128.7 1289.4,126.2 C1290.1,123.6 1291.6,133.7 1292.4,135.0 C1293.1,136.3 1294.6,137.8 1295.4,136.4 C1296.1,135.0 1297.6,125.3 1298.4,123.8 C1299.1,122.3 1300.6,126.0 1301.4,124.3 C1302.1,122.6 1303.6,108.0 1304.4,110.4 C1305.1,112.7 1306.6,140.0 1307.4,142.7 C1308.1,145.4 1309.6,133.7 1310.4,132.2 C1311.1,130.6 1312.6,128.0 1313.4,130.4 C1314.1,132.7 1315.6,152.6 1316.4,151.1 C1317.2,149.7 1318.7,123.5 1319.4,118.8 C1320.2,114.1 1321.7,110.6 1322.4,113.3 C1323.2,116.0 1324.7,138.7 1325.4,140.7 C1326.2,142.7 1327.7,129.9 1328.4,129.2 C1329.2,128.5 1330.7,135.5 1331.4,135.2 C1332.2,135.0 1333.7,127.1 1334.4,127.1 C1335.2,127.1 1336.7,136.8 1337.4,135.4 C1338.2,134.1 1339.7,116.2 1340.4,116.4 C1341.2,116.6 1342.7,138.2 1343.4,137.1 C1344.2,136.1 1345.7,110.3 1346.5,108.0 C1347.2,105.8 1348.7,120.8 1349.5,119.3 C1350.2,117.8 1351.7,93.3 1352.5,96.2 C1353.2,99.0 1354.7,138.6 1355.5,142.4 C1356.2,146.1 1357.7,126.3 1358.5,126.2 C1359.2,126.1 1360.7,141.0 1361.5,141.6 C1362.2,142.1 1363.7,132.8 1364.5,130.9 C1365.2,129.0 1366.7,124.8 1367.5,126.2 C1368.2,127.7 1369.7,139.6 1370.5,142.3 C1371.2,145.0 1372.7,146.9 1373.5,147.7 C1374.2,148.6 1376.1,149.1 1376.5,149.3"/>
<path fill="#960000" d="M991.0,292.8 L984.75,278.3 Q991.0,282.3 997.25,278.3 Z"/>
<path fill="#ff8080" d="M1022.9,275.2 L1016.65,289.7 Q1022.9,285.7 1029.15,289.7 Z"/>
<path fill="#000096" d="M1090.8,289.6 L1084.55,275.1 Q1090.8,279.1 1097.05,275.1 Z"/>
<path fill="#8080ff" d="M1313.6,276.8 L1307.35,291.3 Q1313.6,287.3 1319.85,291.3 Z"/>
<line x1="1090.4" y1="250.1" x2="1000.3" y2="250.1" stroke="#000" stroke-width="2.2"/><path fill="#000" d="M992.3,250.1 L1008.8,244.29999999999998 Q1004.8,250.1 1008.8,255.9 Z"/>
<line x1="1313.2" y1="332.6" x2="1031.5" y2="332.6" stroke="#000" stroke-width="2.2"/><path fill="#000" d="M1023.5,332.6 L1040.0,326.8 Q1036.0,332.6 1040.0,338.40000000000003 Z"/>
</g>
<g id="panel-e">
<path fill="#fdc66f" d="M1419.5,97.5 L1526,97.5 C1560,88 1600,83.5 1620,85 C1660,88 1690,110 1699.8,137.5 C1680,112 1650,100 1621,100.5 C1585,101 1550,115 1529.2,128.5 L1529.2,208.7 L1419.5,208.7 Z"/>
<rect x="1428.2" y="108.4" width="91" height="90.4" fill="url(#gOn)"/>
<rect x="1428.2" y="108.4" width="91" height="90.4" fill="url(#gSide)" mask="url(#mV)"/>
<path fill="#ccfca6" d="M1419.3,282.9 L1528.6,282.9 L1528.6,357.3 C1548,384 1575,415 1601.3,431 C1625,443.5 1675,468 1715,486 C1690,478 1655,466 1640,458.8 C1627,452.5 1612,445 1601.3,439.4 C1590,433.5 1585,431 1581.2,429.4 L1528.6,393.5 L1419.3,393.5 Z"/>
<rect x="1428.6" y="292.9" width="90.6" height="88.6" fill="url(#gOff)"/>
<path fill="#dedede" fill-opacity="1" d="M1667.8,84.3 L1739.2,64.1 L1726.5,76.1 L1798.6,76.1 A8.2,8.2 0 0 1 1798.6,92.5 L1726.5,92.5 L1739.2,104.5 Z"/>
<path fill="#dedede" fill-opacity="1" d="M1807.1,588.8 L1735.3,568.5999999999999 L1747.5,580.5999999999999 L1675.7,580.5999999999999 A8.2,8.2 0 0 0 1675.7,597.0 L1747.5,597.0 L1735.3,609.0 Z"/>
<polyline fill="none" stroke="#ff8080" stroke-width="2.8" stroke-linejoin="round" stroke-linecap="butt" points="1378.8,540.7 1379.2,532.0 1379.6,556.9 1380.0,530.6 1380.5,543.7 1380.9,549.4 1381.3,549.4 1381.7,551.5 1382.1,545.0 1382.5,537.0 1382.9,538.9 1383.3,538.5 1383.8,556.1 1384.2,555.2 1384.6,531.5 1385.0,536.0 1385.4,526.8 1385.8,534.1 1386.2,551.0 1386.6,533.5 1387.1,538.5 1387.5,541.6 1387.9,549.4 1388.3,543.2 1388.7,552.6 1389.1,536.4 1389.5,542.2 1390.0,531.2 1390.4,549.0 1390.8,539.6 1391.2,539.4 1391.6,549.7 1392.0,552.0 1392.4,535.4 1392.8,539.2 1393.3,544.3 1393.7,540.1 1394.1,548.2 1394.5,541.2 1394.9,547.6 1395.3,541.6 1395.7,535.5 1396.1,545.6 1396.6,536.5 1397.0,550.8 1397.4,545.1 1397.8,553.3 1398.2,543.7 1398.6,542.3 1399.0,544.4 1399.5,544.9 1399.9,532.7 1400.3,532.1 1400.7,552.0 1401.1,533.9 1401.5,555.8 1401.9,548.4 1402.3,544.1 1402.8,541.9 1403.2,550.7 1403.6,548.2 1404.0,542.1 1404.4,547.9 1404.8,547.5 1405.2,537.6 1405.6,535.6 1406.1,543.1 1406.5,542.5 1406.9,542.8 1407.3,546.0 1407.7,546.4 1408.1,550.4 1408.5,537.6 1409.0,543.2 1409.4,543.5 1409.8,541.0 1410.2,538.5 1410.6,531.7 1411.0,544.5 1411.4,545.5 1411.8,540.9 1412.3,548.8 1412.7,532.7 1413.1,535.3 1413.5,537.1 1413.9,543.2 1414.3,536.7 1414.7,534.3 1415.1,538.5 1415.6,533.9 1416.0,555.0 1416.4,535.0 1416.8,544.9 1417.2,548.5 1417.6,535.4 1418.0,539.6 1418.5,552.8 1418.9,542.8 1419.3,544.1 1419.7,534.5 1420.1,556.4 1420.5,544.9 1420.9,543.0 1421.3,531.2 1421.8,550.1 1422.2,564.2 1422.6,552.4 1423.0,539.9 1423.4,535.7 1423.8,528.7 1424.2,538.8 1424.6,547.9 1425.1,535.1 1425.5,541.8 1425.9,543.2 1426.3,541.6 1426.7,532.0 1427.1,548.5 1427.5,549.4 1427.9,542.1 1428.4,542.1 1428.8,547.7 1429.2,548.2 1429.6,538.6 1430.0,531.4 1430.4,536.1 1430.8,536.3 1431.3,532.0 1431.7,556.4 1432.1,552.8 1432.5,546.7 1432.9,550.3 1433.3,548.8 1433.7,540.7 1434.1,550.9 1434.6,544.6 1435.0,556.6 1435.4,548.5 1435.8,531.0 1436.2,545.2 1436.6,538.6 1437.0,535.7 1437.4,544.7 1437.9,536.6 1438.3,541.0 1438.7,535.7 1439.1,545.7 1439.5,551.8 1439.9,548.6 1440.3,545.0 1440.8,536.8 1441.2,542.3 1441.6,543.8 1442.0,542.1 1442.4,532.4 1442.8,545.0 1443.2,529.2 1443.6,549.9 1444.1,545.1 1444.5,534.1 1444.9,536.6 1445.3,547.0 1445.7,541.3 1446.1,545.8 1446.5,534.0 1446.9,536.3 1447.4,545.7 1447.8,537.3 1448.2,543.1 1448.6,540.8 1449.0,539.7 1449.4,544.5 1449.8,537.0 1450.3,536.7 1450.7,536.9 1451.1,531.7 1451.5,542.1 1451.9,551.2 1452.3,543.7 1452.7,538.4 1453.1,539.8 1453.6,535.1 1454.0,533.8 1454.4,540.7 1454.8,540.6 1455.2,547.2 1455.6,531.9 1456.0,541.7 1456.4,547.9 1456.9,548.1 1457.3,542.7 1457.7,527.8 1458.1,533.7 1458.5,552.3 1458.9,540.4 1459.3,537.4 1459.8,534.7 1460.2,536.8 1460.6,544.2 1461.0,536.2 1461.4,543.5 1461.8,556.2 1462.2,544.6 1462.6,544.3 1463.1,531.9 1463.5,531.1 1463.9,547.0 1464.3,537.7 1464.7,538.3 1465.1,549.8 1465.5,554.4 1465.9,539.6 1466.4,537.8 1466.8,543.3 1467.2,559.3 1467.6,539.0 1468.0,543.1 1468.4,545.4 1468.8,541.1 1469.3,547.1 1469.7,534.3 1470.1,538.4 1470.5,542.7 1470.9,536.3 1471.3,538.6 1471.7,549.8 1472.1,539.4 1472.6,541.7 1473.0,551.4 1473.4,549.6 1473.8,534.9 1474.2,542.8 1474.6,527.4 1475.0,525.2 1475.4,540.3 1475.9,533.8 1476.3,522.9 1476.7,540.4 1477.1,544.7 1477.5,541.0 1477.9,548.2 1478.3,547.9 1478.8,536.1 1479.2,540.8 1479.6,535.7 1480.0,533.9 1480.4,543.3 1480.8,539.0 1481.2,539.5 1481.6,542.5 1482.1,543.7 1482.5,534.9 1482.9,538.3 1483.3,534.7 1483.7,529.6 1484.1,533.4 1484.5,545.5 1484.9,543.5 1485.4,539.0 1485.8,536.1 1486.2,529.8 1486.6,544.2 1487.0,540.2 1487.4,535.0 1487.8,527.5 1488.3,526.3 1488.7,544.3 1489.1,538.2 1489.5,542.7 1489.9,530.1 1490.3,533.1 1490.7,539.2 1491.1,541.0 1491.6,534.1 1492.0,528.9 1492.4,542.1 1492.8,538.7 1493.2,535.3 1493.6,536.0 1494.0,533.6 1494.4,543.6 1494.9,540.5 1495.3,551.9 1495.7,535.5 1496.1,527.8 1496.5,560.3 1496.9,540.6 1497.3,528.9 1497.8,534.6 1498.2,550.0 1498.6,526.8 1499.0,546.3 1499.4,525.1 1499.8,539.9 1500.2,540.8 1500.6,535.2 1501.1,535.5 1501.5,530.7 1501.9,531.4 1502.3,536.3 1502.7,525.1 1503.1,529.7 1503.5,533.0 1503.9,534.0 1504.4,518.6 1504.8,535.5 1505.2,529.8 1505.6,531.2 1506.0,534.4 1506.4,527.0 1506.8,536.6 1507.2,531.3 1507.7,528.0 1508.1,542.9 1508.5,536.4 1508.9,521.8 1509.3,541.6 1509.7,523.9 1510.1,542.3 1510.6,531.1 1511.0,542.2 1511.4,538.8 1511.8,536.9 1512.2,538.1 1512.6,526.3 1513.0,527.6 1513.4,527.3 1513.9,532.3 1514.3,521.3 1514.7,525.9 1515.1,531.2 1515.5,541.5 1515.9,528.3 1516.3,528.5 1516.7,532.7 1517.2,528.0 1517.6,527.5 1518.0,535.5 1518.4,528.9 1518.8,530.5 1519.2,530.7 1519.6,535.6 1520.1,536.5 1520.5,532.0 1520.9,522.0 1521.3,515.2 1521.7,535.6 1522.1,540.7 1522.5,535.2 1522.9,538.9 1523.4,535.7 1523.8,529.5 1524.2,539.4 1524.6,527.8 1525.0,526.3 1525.4,520.8 1525.8,518.5 1526.2,524.6 1526.7,515.0 1527.1,535.8 1527.5,529.9 1527.9,530.6 1528.3,528.6 1528.7,524.1 1529.1,534.2 1529.6,518.7 1530.0,522.0 1530.4,528.9 1530.8,528.0 1531.2,538.8 1531.6,550.1 1532.0,532.0 1532.4,528.9 1532.9,529.5 1533.3,539.4 1533.7,534.5 1534.1,517.8 1534.5,525.4 1534.9,526.2 1535.3,533.2 1535.7,525.2 1536.2,521.0 1536.6,524.9 1537.0,533.6 1537.4,536.6 1537.8,537.1 1538.2,532.7 1538.6,525.9 1539.1,534.3 1539.5,531.9 1539.9,519.3 1540.3,531.3 1540.7,524.3 1541.1,532.2 1541.5,538.4 1541.9,529.8 1542.4,532.5 1542.8,544.8 1543.2,538.7 1543.6,532.7 1544.0,518.4 1544.4,533.8 1544.8,529.6 1545.2,524.6 1545.7,527.1 1546.1,531.7 1546.5,516.4 1546.9,519.0 1547.3,547.3 1547.7,521.7 1548.1,524.8 1548.6,521.5 1549.0,528.1 1549.4,522.5 1549.8,514.2 1550.2,515.7 1550.6,515.1 1551.0,520.5 1551.4,521.4 1551.9,521.2 1552.3,536.6 1552.7,511.1 1553.1,526.3 1553.5,525.6 1553.9,527.1 1554.3,524.4 1554.7,543.8 1555.2,526.1 1555.6,537.2 1556.0,535.1 1556.4,541.5 1556.8,540.4 1557.2,536.3 1557.6,531.1 1558.1,528.1 1558.5,528.6 1558.9,535.9 1559.3,532.5 1559.7,536.5 1560.1,529.4 1560.5,543.6 1560.9,529.9 1561.4,520.0 1561.8,517.7 1562.2,518.1 1562.6,522.9 1563.0,534.1 1563.4,519.7 1563.8,522.6 1564.2,524.4 1564.7,535.4 1565.1,523.3 1565.5,515.6 1565.9,520.6 1566.3,527.8 1566.7,521.9 1567.1,525.9 1567.6,524.5 1568.0,519.4 1568.4,523.1 1568.8,525.1 1569.2,522.7 1569.6,531.7 1570.0,532.9 1570.4,521.7 1570.9,529.8 1571.3,521.0 1571.7,539.0 1572.1,516.1 1572.5,525.8 1572.9,512.4 1573.3,543.5 1573.7,537.4 1574.2,514.2 1574.6,523.5 1575.0,522.3 1575.4,523.6 1575.8,523.2 1576.2,520.3 1576.6,531.9 1577.1,525.5 1577.5,514.3 1577.9,522.7 1578.3,528.6 1578.7,523.2 1579.1,516.0 1579.5,525.2 1579.9,525.0 1580.4,519.9 1580.8,517.1 1581.2,512.3 1581.6,524.3 1582.0,520.7 1582.4,515.4 1582.8,537.4 1583.2,522.0 1583.7,519.5 1584.1,523.5 1584.5,529.2 1584.9,518.3 1585.3,513.3 1585.7,523.2 1586.1,526.1 1586.6,524.0 1587.0,510.6 1587.4,512.9 1587.8,521.8 1588.2,530.3 1588.6,531.5 1589.0,524.3 1589.4,524.2 1589.9,519.7 1590.3,530.2 1590.7,522.5 1591.1,517.5 1591.5,534.1 1591.9,504.0 1592.3,516.9 1592.7,517.2 1593.2,530.9 1593.6,528.7 1594.0,513.2 1594.4,514.1 1594.8,539.1 1595.2,512.0 1595.6,515.1 1596.0,515.8 1596.5,528.8 1596.9,518.4 1597.3,524.8 1597.7,515.9 1598.1,506.2 1598.5,515.1 1598.9,512.2 1599.4,522.2 1599.8,527.4 1600.2,519.5 1600.6,511.7 1601.0,508.4 1601.4,519.8 1601.8,517.4 1602.2,522.2 1602.7,532.1 1603.1,518.4 1603.5,516.3 1603.9,522.0 1604.3,520.1 1604.7,532.3 1605.1,518.2 1605.5,508.1 1606.0,518.6 1606.4,513.9 1606.8,514.9 1607.2,523.9 1607.6,516.5 1608.0,524.2 1608.4,495.9 1608.9,516.3 1609.3,526.0 1609.7,529.3 1610.1,506.3 1610.5,512.9 1610.9,514.4 1611.3,527.6 1611.7,521.5 1612.2,526.4 1612.6,508.8 1613.0,521.0 1613.4,502.4 1613.8,512.9 1614.2,519.2 1614.6,506.6 1615.0,532.4 1615.5,522.8 1615.9,519.5 1616.3,508.3 1616.7,508.1 1617.1,513.5 1617.5,529.5 1617.9,520.0 1618.4,524.2 1618.8,506.4 1619.2,519.1 1619.6,511.2 1620.0,501.5 1620.4,516.0 1620.8,510.1 1621.2,518.2 1621.7,514.9 1622.1,514.8 1622.5,514.9 1622.9,514.4 1623.3,517.8 1623.7,500.7 1624.1,519.6 1624.5,512.7 1625.0,516.8 1625.4,531.5 1625.8,507.0 1626.2,512.5 1626.6,524.6 1627.0,519.6 1627.4,526.2 1627.9,517.8 1628.3,502.0 1628.7,504.6 1629.1,523.5 1629.5,526.6 1629.9,509.5 1630.3,500.7 1630.7,513.0 1631.2,505.3 1631.6,523.7 1632.0,513.9 1632.4,509.7 1632.8,516.0 1633.2,514.5 1633.6,516.7 1634.0,517.4 1634.5,520.1 1634.9,506.8 1635.3,510.6 1635.7,519.8 1636.1,508.9 1636.5,516.4 1636.9,507.2 1637.4,512.0 1637.8,514.0 1638.2,517.6 1638.6,510.2 1639.0,511.9 1639.4,497.2 1639.8,511.7 1640.2,521.5 1640.7,495.6 1641.1,526.5 1641.5,498.5 1641.9,517.5 1642.3,500.3 1642.7,512.2 1643.1,506.6 1643.5,510.4 1644.0,511.3 1644.4,506.5 1644.8,515.2 1645.2,506.6 1645.6,518.3 1646.0,515.6 1646.4,513.8 1646.9,510.6 1647.3,500.6 1647.7,516.0 1648.1,516.1 1648.5,518.0 1648.9,512.5 1649.3,505.0 1649.7,514.8 1650.2,511.3 1650.6,513.5 1651.0,508.3 1651.4,524.1 1651.8,504.2 1652.2,501.6 1652.6,514.9 1653.0,509.0 1653.5,515.2 1653.9,500.7 1654.3,503.4 1654.7,486.1 1655.1,509.5 1655.5,514.5 1655.9,511.4 1656.4,517.1 1656.8,505.9 1657.2,505.1 1657.6,500.3 1658.0,504.1 1658.4,510.2 1658.8,497.2 1659.2,502.5 1659.7,500.5 1660.1,515.5 1660.5,512.9 1660.9,511.3 1661.3,509.3 1661.7,522.8 1662.1,497.0 1662.5,507.6 1663.0,499.5 1663.4,499.9 1663.8,494.4 1664.2,501.2 1664.6,502.6 1665.0,510.9 1665.4,504.3 1665.9,491.8 1666.3,518.3 1666.7,510.2 1667.1,502.6 1667.5,492.4 1667.9,512.8 1668.3,507.7 1668.7,503.1 1669.2,480.6 1669.6,510.5 1670.0,505.0 1670.4,498.1 1670.8,508.9 1671.2,500.6 1671.6,500.2 1672.0,506.0 1672.5,500.5 1672.9,490.0 1673.3,501.9 1673.7,506.0 1674.1,508.3 1674.5,500.8 1674.9,494.6 1675.3,501.2 1675.8,499.9 1676.2,482.1 1676.6,507.7 1677.0,510.0 1677.4,499.7 1677.8,503.3 1678.2,497.2 1678.7,492.1 1679.1,498.6 1679.5,502.7 1679.9,497.2 1680.3,497.3 1680.7,501.6 1681.1,505.1 1681.5,495.6 1682.0,502.1 1682.4,509.1 1682.8,495.2 1683.2,504.2 1683.6,504.2 1684.0,495.2 1684.4,505.9 1684.8,501.2 1685.3,507.2 1685.7,511.2 1686.1,497.3 1686.5,487.7 1686.9,506.0 1687.3,490.5 1687.7,491.1 1688.2,487.7 1688.6,507.0 1689.0,503.7 1689.4,486.3 1689.8,499.0 1690.2,498.5 1690.6,493.0 1691.0,493.6 1691.5,502.2 1691.9,499.6 1692.3,493.0 1692.7,495.7 1693.1,503.1 1693.5,487.9 1693.9,491.0 1694.3,499.7 1694.8,501.3 1695.2,490.1 1695.6,515.1 1696.0,496.0 1696.4,501.1 1696.8,501.6 1697.2,489.8 1697.7,494.0 1698.1,473.1 1698.5,497.7 1698.9,493.1 1699.3,506.3 1699.7,488.0 1700.1,500.0 1700.5,493.7 1701.0,485.5 1701.4,486.2 1701.8,491.3 1702.2,485.2 1702.6,498.1 1703.0,501.7 1703.4,506.0 1703.8,490.2 1704.3,479.5 1704.7,496.7 1705.1,494.0 1705.5,496.4 1705.9,490.2 1706.3,507.5 1706.7,487.2 1707.2,485.4 1707.6,498.6 1708.0,500.9 1708.4,499.8 1708.8,488.9 1709.2,482.1 1709.6,500.4 1710.0,504.4 1710.5,491.9 1710.9,490.5 1711.3,487.1 1711.7,497.5 1712.1,486.7 1712.5,483.8 1712.9,504.4 1713.3,494.1 1713.8,487.2 1714.2,485.9 1714.6,495.7 1715.0,506.1 1715.4,497.3 1715.8,502.0 1716.2,495.1 1716.7,483.3 1717.1,495.7 1717.5,490.2 1717.9,499.9 1718.3,483.6 1718.7,495.3 1719.1,498.3 1719.5,476.2 1720.0,487.7 1720.4,484.9 1720.8,505.0 1721.2,479.1 1721.6,476.8 1722.0,490.6 1722.4,491.8 1722.8,493.8 1723.3,481.1 1723.7,501.0 1724.1,486.6 1724.5,473.8 1724.9,487.8 1725.3,473.8 1725.7,488.4 1726.2,490.7 1726.6,481.4 1727.0,488.8 1727.4,487.3 1727.8,491.0 1728.2,497.0 1728.6,490.0 1729.0,482.3 1729.5,479.3 1729.9,487.9 1730.3,484.9 1730.7,494.1 1731.1,488.3 1731.5,488.0 1731.9,487.7 1732.3,486.1 1732.8,483.8 1733.2,477.1 1733.6,480.4 1734.0,482.2 1734.4,495.1 1734.8,491.9 1735.2,485.3 1735.7,484.8 1736.1,479.9 1736.5,498.6 1736.9,483.8 1737.3,484.1 1737.7,487.4 1738.1,490.7 1738.5,482.9 1739.0,485.7 1739.4,480.8 1739.8,499.4 1740.2,490.9 1740.6,472.5 1741.0,482.2 1741.4,489.6 1741.8,486.0 1742.3,493.2 1742.7,472.6 1743.1,472.4 1743.5,476.4 1743.9,473.9 1744.3,479.3 1744.7,472.7 1745.2,477.7 1745.6,471.7 1746.0,482.4 1746.4,482.7 1746.8,486.2 1747.2,485.3 1747.6,488.4 1748.0,471.6 1748.5,470.9 1748.9,475.8 1749.3,473.6 1749.7,479.3 1750.1,477.2 1750.5,490.8 1750.9,481.1 1751.3,494.0 1751.8,485.4 1752.2,482.4 1752.6,482.4 1753.0,487.9 1753.4,470.2 1753.8,472.3 1754.2,483.5 1754.7,488.6 1755.1,483.0 1755.5,472.2 1755.9,493.4 1756.3,472.9 1756.7,479.8 1757.1,481.6 1757.5,470.9 1758.0,478.3 1758.4,480.9 1758.8,468.9 1759.2,489.9 1759.6,465.8 1760.0,484.1 1760.4,483.9 1760.8,465.6 1761.3,452.4 1761.7,468.0 1762.1,483.3 1762.5,493.2 1762.9,475.0 1763.3,476.6 1763.7,480.9 1764.1,477.3 1764.6,481.3 1765.0,469.8 1765.4,476.6 1765.8,477.4 1766.2,492.2 1766.6,473.7 1767.0,486.3 1767.5,469.8 1767.9,475.4 1768.3,490.3 1768.7,477.4 1769.1,483.7 1769.5,470.5 1769.9,471.2 1770.3,466.5 1770.8,480.1 1771.2,470.5 1771.6,488.6 1772.0,471.4 1772.4,475.5 1772.8,471.9 1773.2,473.6 1773.6,465.7 1774.1,475.8 1774.5,474.5 1774.9,459.5 1775.3,473.3 1775.7,476.7 1776.1,479.3 1776.5,472.3 1777.0,472.5 1777.4,467.3 1777.8,473.3 1778.2,466.7 1778.6,473.7 1779.0,459.6 1779.4,471.8 1779.8,466.2 1780.3,468.3 1780.7,480.9 1781.1,463.1 1781.5,473.9 1781.9,463.7 1782.3,485.4 1782.7,484.2 1783.1,485.2 1783.6,483.5 1784.0,472.9 1784.4,470.1 1784.8,477.1 1785.2,474.9 1785.6,474.6 1786.0,463.8 1786.5,463.9 1786.9,466.8 1787.3,464.1 1787.7,455.9 1788.1,463.8 1788.5,479.9 1788.9,469.9 1789.3,470.5 1789.8,462.0 1790.2,464.4 1790.6,461.3 1791.0,479.2 1791.4,457.1 1791.8,468.5 1792.2,460.0 1792.6,463.5 1793.1,473.6 1793.5,473.0 1793.9,462.2 1794.3,458.0 1794.7,473.2 1795.1,474.9 1795.5,481.6 1796.0,473.1 1796.4,471.5 1796.8,468.0 1797.2,461.2 1797.6,469.3 1798.0,473.8 1798.4,468.2 1798.8,465.8 1799.3,464.0 1799.7,463.9 1800.1,455.0 1800.5,460.6 1800.9,466.7 1801.3,472.2 1801.7,465.5 1802.1,450.2 1802.6,470.1 1803.0,445.5 1803.4,467.4 1803.8,458.2 1804.2,475.4 1804.6,464.0 1805.0,452.3 1805.5,471.7 1805.9,468.2 1806.3,460.2 1806.7,459.8 1807.1,473.4 1807.5,471.5 1807.9,459.9 1808.3,459.7 1808.8,456.2 1809.2,462.8 1809.6,456.7 1810.0,452.3 1810.4,470.2 1810.8,453.4 1811.2,455.2 1811.6,451.1 1812.1,463.4 1812.5,460.6 1812.9,459.6 1813.3,463.6 1813.7,452.4 1814.1,458.0 1814.5,467.0 1815.0,457.5 1815.4,467.2 1815.8,470.7 1816.2,466.7 1816.6,458.6 1817.0,457.8 1817.4,459.3 1817.8,454.3 1818.3,443.9 1818.7,466.4 1819.1,454.7 1819.5,455.7 1819.9,466.4 1820.3,461.1 1820.7,455.8 1821.1,456.9 1821.6,463.1 1822.0,451.1 1822.4,454.9 1822.8,451.8 1823.2,444.6 1823.6,465.6 1824.0,448.7 1824.5,452.4 1824.9,462.2 1825.3,456.0 1825.7,458.5 1826.1,463.9 1826.5,449.2 1826.9,460.6 1827.3,469.8 1827.8,448.6 1828.2,458.1 1828.6,451.6 1829.0,452.7 1829.4,456.3 1829.8,456.7 1830.2,472.4 1830.6,456.6 1831.1,461.8 1831.5,449.5 1831.9,458.8 1832.3,457.8 1832.7,452.1 1833.1,453.9 1833.5,457.7 1834.0,455.9 1834.4,449.2 1834.8,462.7 1835.2,446.2 1835.6,452.7 1836.0,455.2 1836.4,448.8 1836.8,443.8 1837.3,442.6 1837.7,458.6 1838.1,440.8 1838.5,450.3 1838.9,440.8 1839.3,458.0 1839.7,451.4 1840.1,450.8 1840.6,459.1 1841.0,453.0 1841.4,442.8 1841.8,441.1 1842.2,444.3 1842.6,446.9 1843.0,452.1 1843.4,433.5 1843.9,458.4 1844.3,457.2 1844.7,453.9 1845.1,446.7 1845.5,451.3 1845.9,442.1 1846.3,459.1 1846.8,441.3 1847.2,434.3 1847.6,440.7 1848.0,449.1 1848.4,451.2 1848.8,438.6 1849.2,459.0 1849.6,452.1 1850.1,458.5 1850.5,447.0 1850.9,432.3 1851.3,448.8 1851.7,437.6 1852.1,453.3 1852.5,157.5 1852.9,157.7 1853.4,145.7 1853.8,159.9 1854.2,158.4 1854.6,153.4 1855.0,142.0 1855.4,153.0 1855.8,153.5 1856.3,150.5 1856.7,155.2 1857.1,144.9 1857.5,157.6 1857.9,160.1 1858.3,152.6 1858.7,164.7 1859.1,162.1 1859.6,159.2 1860.0,153.0 1860.4,145.7 1860.8,144.9 1861.2,154.7 1861.6,151.5 1862.0,155.5 1862.4,163.7 1862.9,150.2 1863.3,158.6 1863.7,147.7 1864.1,157.2 1864.5,160.6 1864.9,150.8 1865.3,157.2 1865.8,162.8 1866.2,145.6 1866.6,150.8 1867.0,150.8 1867.4,152.6 1867.8,157.2 1868.2,173.7 1868.6,157.2 1869.1,156.4 1869.5,150.0 1869.9,162.7 1870.3,149.6 1870.7,152.8 1871.1,142.3 1871.5,158.4 1871.9,152.9 1872.4,151.2 1872.8,148.7 1873.2,143.5 1873.6,149.5 1874.0,159.0 1874.4,140.8 1874.8,167.5 1875.3,148.2 1875.7,143.2 1876.1,157.9 1876.5,153.2 1876.9,153.4 1877.3,161.0 1877.7,150.1 1878.1,159.9 1878.6,150.4 1879.0,148.3 1879.4,144.7 1879.8,142.7 1880.2,149.6 1880.6,149.1 1881.0,154.3 1881.4,153.2 1881.9,146.2 1882.3,146.9 1882.7,149.2 1883.1,152.7 1883.5,145.0 1883.9,160.9 1884.3,156.5 1884.8,151.0 1885.2,144.3 1885.6,161.7 1886.0,160.4 1886.4,161.5 1886.8,147.2 1887.2,146.6 1887.6,141.2 1888.1,135.8 1888.5,161.3 1888.9,153.9 1889.3,156.5 1889.7,160.5 1890.1,152.2 1890.5,156.5 1890.9,151.4 1891.4,155.1 1891.8,163.1 1892.2,148.1 1892.6,148.3 1893.0,155.6 1893.4,150.9 1893.8,169.5 1894.3,162.6 1894.7,149.7 1895.1,147.5 1895.5,151.9 1895.9,151.9 1896.3,171.1 1896.7,149.7 1897.1,157.5 1897.6,154.4 1898.0,159.5 1898.4,167.1 1898.8,146.8 1899.2,149.6 1899.6,160.2 1900.0,163.8 1900.4,157.0 1900.9,146.0 1901.3,148.4 1901.7,152.0 1902.1,145.6 1902.5,149.8 1902.9,159.3 1903.3,147.6 1903.8,152.8 1904.2,158.4 1904.6,143.9 1905.0,149.2 1905.4,162.9 1905.8,146.6 1906.2,150.8 1906.6,154.9 1907.1,155.6 1907.5,159.8 1907.9,163.0 1908.3,150.2 1908.7,148.8 1909.1,154.7 1909.5,150.3 1909.9,155.0 1910.4,154.8 1910.8,148.4 1911.2,148.6 1911.6,141.7 1912.0,155.5 1912.4,149.6 1912.8,153.3 1913.3,150.5 1913.7,142.9 1914.1,149.1 1914.5,157.8 1914.9,155.4 1915.3,156.4 1915.7,154.0 1916.1,156.9 1916.6,155.6 1917.0,153.3 1917.4,149.6 1917.8,158.2 1918.2,151.5 1918.6,151.7 1919.0,145.8 1919.4,150.1 1919.9,148.2 1920.3,150.0 1920.7,143.6 1921.1,152.9 1921.5,162.8 1921.9,149.4"/>
<polyline fill="none" stroke="#960000" stroke-width="2.8" stroke-linejoin="round" stroke-linecap="butt" points="1378.8,554.0 1380.2,552.5 1381.6,553.2 1383.0,548.0 1384.4,532.3 1385.8,555.4 1387.1,536.1 1388.5,533.6 1389.9,545.9 1391.3,548.4 1392.7,539.5 1394.1,533.9 1395.5,526.7 1396.9,536.2 1398.3,530.9 1399.7,546.3 1401.1,549.4 1402.5,555.8 1403.8,551.5 1405.2,545.4 1406.6,541.2 1408.0,552.5 1409.4,536.3 1410.8,543.2 1412.2,547.2 1413.6,548.1 1415.0,527.0 1416.4,540.9 1417.8,548.9 1419.1,549.3 1420.5,528.1 1421.9,546.3 1423.3,532.9 1424.7,531.0 1426.1,559.3 1427.5,531.4 1428.9,535.8 1430.3,549.7 1431.7,545.5 1433.1,537.1 1434.4,538.4 1435.8,537.9 1437.2,546.5 1438.6,531.3 1440.0,529.5 1441.4,526.9 1442.8,533.1 1444.2,526.2 1445.6,517.3 1447.0,535.1 1448.4,533.6 1449.8,535.8 1451.1,535.9 1452.5,533.4 1453.9,552.8 1455.3,542.2 1456.7,536.0 1458.1,555.5 1459.5,550.3 1460.9,527.3 1462.3,547.2 1463.7,542.6 1465.1,536.1 1466.4,542.4 1467.8,545.2 1469.2,542.5 1470.6,541.7 1472.0,534.1 1473.4,536.8 1474.8,525.9 1476.2,535.2 1477.6,525.5 1479.0,532.1 1480.4,531.2 1481.8,533.0 1483.1,539.5 1484.5,533.9 1485.9,534.7 1487.3,545.2 1488.7,531.0 1490.1,532.2 1491.5,533.6 1492.9,540.5 1494.3,556.0 1495.7,524.8 1497.1,536.3 1498.4,552.1 1499.8,530.5 1501.2,540.6 1502.6,529.9 1504.0,535.7 1505.4,526.2 1506.8,532.9 1508.2,532.4 1509.6,533.2 1511.0,524.8 1512.4,543.8 1513.7,524.9 1515.1,528.4 1516.5,537.6 1517.9,533.3 1519.3,536.5 1520.7,532.5 1522.1,525.6 1523.5,537.7 1524.9,526.7 1526.3,525.0 1527.7,527.1 1529.1,520.0 1530.4,532.1 1531.8,526.2 1533.2,512.4 1534.6,536.9 1536.0,531.9 1537.4,530.6 1538.8,526.0 1540.2,534.9 1541.6,531.8 1543.0,543.1 1544.4,537.5 1545.7,537.1 1547.1,537.9 1548.5,532.3 1549.9,523.5 1551.3,531.4 1552.7,538.3 1554.1,526.2 1555.5,526.6 1556.9,538.2 1558.3,526.3 1559.7,535.3 1561.1,531.7 1562.4,532.3 1563.8,520.3 1565.2,532.5 1566.6,520.2 1568.0,524.4 1569.4,517.8 1570.8,516.4 1572.2,532.8 1573.6,515.9 1575.0,522.3 1576.4,515.3 1577.7,516.1 1579.1,527.9 1580.5,523.3 1581.9,525.6 1583.3,520.3 1584.7,510.4 1586.1,522.2 1587.5,527.4 1588.9,502.9 1590.3,529.3 1591.7,521.6 1593.0,521.4 1594.4,530.6 1595.8,514.8 1597.2,507.4 1598.6,520.9 1600.0,519.5 1601.0,202.1 1602.7,216.9 1604.4,197.5 1606.2,211.2 1607.9,208.1 1609.7,194.9 1611.4,189.1 1613.1,206.1 1614.9,186.7 1616.6,171.1 1618.4,195.1 1620.1,197.1 1621.8,194.1 1623.6,199.4 1625.3,203.3 1627.0,188.7 1628.8,187.7 1630.5,198.8 1632.3,197.5 1634.0,199.2 1635.7,199.5 1637.5,201.7 1639.2,206.4 1641.0,183.2 1642.7,194.7 1644.4,190.4 1646.2,173.7 1647.9,194.8 1649.7,184.4 1651.4,202.2 1653.1,195.0 1654.9,182.2 1656.6,190.8 1658.4,201.5 1660.1,202.1 1661.8,184.1 1662.0,164.9 1662.4,152.8 1662.8,155.9 1663.2,160.3 1663.5,158.4 1663.9,152.3 1664.3,157.6 1664.6,165.0 1665.0,155.4 1665.4,160.5 1665.7,159.6 1666.1,153.6 1666.5,155.4 1666.9,150.2 1667.2,159.2 1667.6,161.2 1668.0,160.3 1668.3,155.0 1668.7,163.8 1669.1,160.5 1669.4,164.1 1669.8,163.5 1670.2,159.1 1670.5,139.8 1670.9,160.6 1671.3,155.8 1671.7,157.0 1672.0,159.0 1672.4,157.4 1672.8,143.1 1673.1,159.6 1673.5,145.8 1673.9,152.8 1674.2,164.0 1674.6,160.8 1675.0,161.0 1675.3,169.0 1675.7,149.1 1676.1,154.5 1676.5,153.6 1676.8,165.1 1677.2,154.1 1677.6,161.5 1677.9,139.6 1678.3,158.2 1678.7,155.4 1679.0,154.4 1679.4,161.0 1679.8,160.4 1680.2,160.4 1680.5,151.2 1680.9,162.8 1681.3,158.6 1681.6,155.0 1682.0,160.4 1682.4,167.5 1682.7,166.2 1683.1,160.5 1683.5,164.5 1683.8,150.3 1684.2,157.3 1684.6,157.6 1685.0,164.8 1685.3,153.5 1685.7,160.0 1686.1,164.4 1686.4,162.1 1686.8,139.8 1687.2,161.8 1687.5,163.7 1687.9,148.9 1688.3,151.9 1688.7,159.4 1689.0,147.2 1689.4,168.1 1689.8,160.8 1690.1,169.4 1690.5,147.3 1690.9,157.0 1691.2,138.3 1691.6,153.9 1692.0,153.8 1692.3,165.6 1692.7,166.0 1693.1,160.9 1693.5,150.7 1693.8,163.8 1694.2,174.9 1694.6,151.2 1694.9,150.8 1695.3,164.2 1695.7,154.3 1696.0,149.3 1696.4,149.0 1696.8,169.1 1697.2,157.1 1697.5,163.3 1697.9,150.6 1698.3,157.0 1698.6,166.6 1699.0,156.9 1699.4,153.3 1699.7,169.1 1700.1,167.7 1700.5,162.8 1700.8,160.0 1701.2,162.0 1701.6,171.3 1702.0,169.4 1702.3,158.1 1702.7,154.8 1703.1,164.3 1703.4,156.5 1703.8,143.9 1704.2,159.3 1704.5,160.9 1704.9,162.9 1705.3,154.1 1705.7,155.9 1706.0,155.7 1706.4,160.3 1706.8,154.4 1707.1,154.4 1707.5,158.4 1707.9,148.8 1708.2,168.8 1708.6,152.0 1709.0,158.2 1709.3,151.0 1709.7,143.1 1710.1,156.8 1710.5,158.5 1710.8,157.2 1711.2,146.8 1711.6,145.6 1711.9,155.7 1712.3,152.1 1712.7,143.6 1713.0,152.9 1713.4,167.9 1713.8,162.8 1714.2,160.4 1714.5,153.8 1714.9,160.9 1715.3,146.4 1715.6,160.2 1716.0,145.0 1716.4,161.5 1716.7,146.6 1717.1,155.1 1717.5,145.9 1717.8,141.9 1718.2,143.4 1718.6,148.6 1719.0,161.9 1719.3,162.4 1719.7,180.0 1720.1,145.3 1720.4,146.8 1720.8,148.6 1721.2,164.6 1721.5,136.6 1721.9,161.1 1722.3,149.6 1722.7,168.2 1723.0,160.6 1723.4,146.8 1723.8,148.3 1724.1,164.1 1724.5,156.6 1724.9,147.6 1725.2,169.7 1725.6,150.2 1726.0,167.6 1726.3,160.1 1726.7,157.9 1727.1,148.6 1727.5,159.9 1727.8,158.7 1728.2,158.7 1728.6,163.3 1728.9,158.2 1729.3,163.8 1729.7,160.4 1730.0,151.1 1730.4,158.7 1730.8,148.2 1731.2,150.9 1731.5,150.0 1731.9,164.8 1732.3,153.1 1732.6,145.4 1733.0,149.4 1733.4,147.0 1733.7,144.7 1734.1,167.5 1734.5,151.9 1734.8,152.0 1735.2,157.6 1735.6,166.0 1736.0,155.0 1736.3,157.3 1736.7,141.4 1737.1,146.2 1737.4,159.2 1737.8,164.0 1738.2,162.4 1738.5,156.4 1738.9,161.5 1739.3,141.2 1739.7,165.0 1740.0,156.7 1740.4,154.9 1740.8,152.8 1741.1,162.9 1741.5,157.6 1741.9,154.5 1742.2,153.4 1742.6,160.2 1743.0,158.1 1743.3,154.2 1743.7,141.4 1744.1,164.8 1744.5,150.5 1744.8,143.8 1745.2,166.2 1745.6,144.8 1745.9,145.0 1746.3,155.1 1746.7,148.3 1747.0,144.4 1747.4,156.6 1747.8,153.7 1748.2,163.4 1748.5,160.5 1748.9,167.6 1749.3,156.0 1749.6,143.1 1750.0,156.9 1750.4,164.3 1750.7,148.5 1751.1,148.2 1751.5,152.2 1751.8,156.1 1752.2,161.0 1752.6,159.9 1753.0,143.6 1753.3,149.2 1753.7,154.3 1754.1,151.9 1754.4,157.6 1754.8,162.0 1755.2,158.6 1755.5,155.4 1755.9,167.4 1756.3,165.9 1756.6,168.1 1757.0,158.5 1757.4,150.6 1757.8,165.3 1758.1,163.8 1758.5,167.4 1758.9,158.9 1759.2,164.3 1759.6,163.0 1760.0,163.7 1760.3,138.6 1760.7,156.2 1761.1,160.4 1761.5,158.9 1761.8,149.0 1762.2,148.2 1762.6,153.5 1762.9,170.2 1763.3,148.1 1763.7,147.5 1764.0,149.6 1764.4,151.9 1764.8,154.8 1765.1,146.4 1765.5,157.7 1765.9,147.5 1766.3,159.0 1766.6,158.2 1767.0,158.7 1767.4,159.5 1767.7,159.0 1768.1,149.6 1768.5,143.6 1768.8,160.6 1769.2,164.3 1769.6,145.9 1770.0,157.8 1770.3,153.2 1770.7,154.1 1771.1,148.4 1771.4,161.9 1771.8,146.7 1772.2,149.3 1772.5,171.7 1772.9,149.4 1773.3,158.1 1773.6,152.4 1774.0,155.7 1774.4,160.9 1774.8,157.8 1775.1,152.6 1775.5,154.9 1775.9,156.4 1776.2,138.6 1776.6,151.2 1777.0,163.6 1777.3,154.3 1777.7,152.7 1778.1,162.6 1778.5,154.3 1778.8,161.5 1779.2,171.8 1779.6,152.5 1779.9,150.4 1780.3,150.5 1780.7,156.2 1781.0,159.5 1781.4,153.3 1781.8,151.9 1782.1,148.2 1782.5,145.0 1782.9,149.0 1783.3,159.3 1783.6,155.4 1784.0,165.5 1784.4,149.6 1784.7,150.6 1785.1,146.0 1785.5,151.2 1785.8,143.1 1786.2,160.1 1786.6,152.4 1787.0,156.7 1787.3,156.5 1787.7,168.1 1788.1,160.4 1788.4,169.7 1788.8,157.4 1789.2,160.1 1789.5,153.9 1789.9,168.6 1790.3,158.9 1790.6,156.9 1791.0,172.2 1791.4,142.8 1791.8,151.5 1792.1,160.8 1792.5,141.0 1792.9,145.0 1793.2,173.6 1793.6,157.3 1794.0,159.8 1794.3,154.8 1794.7,157.5 1795.1,157.0 1795.5,154.5 1795.8,173.8 1796.2,154.2 1796.6,144.5 1796.9,154.1 1797.3,146.4 1797.7,143.1 1798.0,152.8 1798.4,152.0 1798.8,151.8 1799.1,158.0 1799.5,137.8 1799.9,151.4 1800.3,150.5 1800.6,147.5 1801.0,143.6 1801.4,164.9 1801.7,162.3 1802.1,153.6 1802.5,150.7 1802.8,163.7 1803.2,164.9 1803.6,148.8 1804.0,149.2 1804.3,156.8 1804.7,156.8 1805.1,159.4 1805.4,163.5 1805.8,161.3 1806.2,153.5 1806.5,156.2 1806.9,147.5 1807.3,164.7 1807.6,167.6 1808.0,150.6 1808.4,161.9 1808.8,157.3 1809.1,154.7 1809.5,164.4 1809.9,166.5 1810.2,153.0 1810.6,175.4 1811.0,150.3 1811.3,168.4 1811.7,149.0 1812.1,152.7 1812.5,153.3 1812.8,151.3 1813.2,154.0 1813.6,165.3 1813.9,148.8 1814.3,154.0 1814.7,151.5 1815.0,155.9 1815.4,151.4 1815.8,148.0 1816.1,147.8 1816.5,153.1 1816.9,163.9 1817.3,161.8 1817.6,162.4 1818.0,146.4 1818.4,150.9 1818.7,154.1 1819.1,163.0 1819.5,160.0 1819.8,148.3 1820.2,162.2 1820.6,160.8 1821.0,148.0 1821.3,149.6 1821.7,154.8 1822.1,163.7 1822.4,163.7 1822.8,147.8 1823.2,151.3 1823.5,142.9 1823.9,157.6 1824.3,154.6 1824.6,161.0 1825.0,141.5 1825.4,166.6 1825.8,149.3 1826.1,141.8 1826.5,161.1 1826.9,164.7 1827.2,161.5 1827.6,164.6 1828.0,151.2 1828.3,154.6 1828.7,160.7 1829.1,156.0 1829.5,142.5 1829.8,155.7 1830.2,156.8 1830.6,139.2 1830.9,160.5 1831.3,157.3 1831.7,142.7 1832.0,153.5 1832.4,168.2 1832.8,160.4 1833.1,170.9 1833.5,158.8 1833.9,151.5 1834.3,166.4 1834.6,142.4 1835.0,144.4 1835.4,147.9 1835.7,159.5 1836.1,153.7 1836.5,149.8 1836.8,146.7 1837.2,144.3 1837.6,170.2 1838.0,159.3 1838.3,162.7 1838.7,156.5 1839.1,152.3 1839.4,125.3 1839.8,154.6 1840.2,147.0 1840.5,153.0 1840.9,154.1 1841.3,140.6 1841.6,162.3 1842.0,148.7 1842.4,138.1 1842.8,127.9 1843.1,157.7 1843.5,160.8 1843.9,163.3 1844.2,156.9 1844.6,153.8 1845.0,153.7 1845.3,145.2 1845.7,156.1 1846.1,151.3 1846.4,166.3 1846.8,158.8 1847.2,154.9 1847.6,171.7 1847.9,152.9 1848.3,147.1 1848.7,153.2 1849.0,152.1 1849.4,153.8 1849.8,162.8 1850.1,153.4 1850.5,158.0 1850.9,159.8 1851.3,153.2 1851.6,152.8 1852.0,163.7 1852.4,154.1 1852.7,140.4 1853.1,146.5 1853.5,155.4 1853.8,159.2 1854.2,146.1 1854.6,153.7 1854.9,167.1 1855.3,157.1 1855.7,140.9 1856.1,166.5 1856.4,153.2 1856.8,159.5 1857.2,154.2 1857.5,156.9 1857.9,160.5 1858.3,173.4 1858.6,155.5 1859.0,153.6 1859.4,154.9 1859.8,161.9 1860.1,160.2 1860.5,137.0 1860.9,162.4 1861.2,156.3 1861.6,163.3 1862.0,155.5 1862.3,151.9 1862.7,144.6 1863.1,152.1 1863.4,153.7 1863.8,151.0 1864.2,149.4 1864.6,154.0 1864.9,153.8 1865.3,144.3 1865.7,152.0 1866.0,154.3 1866.4,160.6 1866.8,157.6 1867.1,142.3 1867.5,159.0 1867.9,149.7 1868.3,137.6 1868.6,149.6 1869.0,154.8 1869.4,159.5 1869.7,173.0 1870.1,160.9 1870.5,160.7 1870.8,146.4 1871.2,148.3 1871.6,163.5 1871.9,148.9 1872.3,158.5 1872.7,139.7 1873.1,142.3 1873.4,148.4 1873.8,156.5 1874.2,140.0 1874.5,146.6 1874.9,144.4 1875.3,149.0 1875.6,153.5 1876.0,147.0 1876.4,159.2 1876.8,146.8 1877.1,151.5 1877.5,165.4 1877.9,149.2 1878.2,153.3 1878.6,155.8 1879.0,153.5 1879.3,147.0 1879.7,161.5 1880.1,161.0 1880.4,147.3 1880.8,151.5 1881.2,166.0 1881.6,152.0 1881.9,165.9 1882.3,147.7 1882.7,150.8 1883.0,149.3 1883.4,164.7 1883.8,159.1 1884.1,146.6 1884.5,163.8 1884.9,149.2 1885.3,154.8 1885.6,152.1 1886.0,154.6 1886.4,148.7 1886.7,150.2 1887.1,146.7 1887.5,134.3 1887.8,154.7 1888.2,152.5 1888.6,161.0 1888.9,139.7 1889.3,155.6 1889.7,147.0 1890.1,161.5 1890.4,154.7 1890.8,148.2 1891.2,149.1 1891.5,154.8 1891.9,145.8 1892.3,151.7 1892.6,144.5 1893.0,154.3 1893.4,147.5 1893.8,156.0 1894.1,142.7 1894.5,152.3 1894.9,151.8 1895.2,156.6 1895.6,144.6 1896.0,151.0 1896.3,153.9 1896.7,142.2 1897.1,158.0 1897.4,144.7 1897.8,140.8 1898.2,165.3 1898.6,145.4 1898.9,148.1 1899.3,150.7 1899.7,149.6 1900.0,161.5 1900.4,148.5 1900.8,150.6 1901.1,163.6 1901.5,153.8 1901.9,161.5 1902.3,151.6 1902.6,159.1 1903.0,151.5 1903.4,163.2 1903.7,156.4 1904.1,155.5 1904.5,154.0 1904.8,143.8 1905.2,135.9 1905.6,163.9 1905.9,146.0 1906.3,154.4 1906.7,154.5 1907.1,154.6 1907.4,153.4 1907.8,152.9 1908.2,145.9 1908.5,153.0 1908.9,149.5 1909.3,151.8 1909.6,147.8 1910.0,149.0 1910.4,138.4 1910.8,159.2 1911.1,162.5 1911.5,154.1 1911.9,149.9 1912.2,153.8 1912.6,150.6 1913.0,171.7 1913.3,158.1 1913.7,157.4 1914.1,162.5 1914.4,157.0 1914.8,154.3 1915.2,149.7 1915.6,159.6 1915.9,165.1 1916.3,149.7 1916.7,138.4 1917.0,151.6 1917.4,151.8 1917.8,160.1 1918.1,151.7 1918.5,141.0 1918.9,167.4 1919.3,145.1 1919.6,167.2 1920.0,141.5 1920.4,146.5 1920.7,154.8 1921.1,150.4 1921.5,140.1 1921.8,160.4 1922.2,143.6"/>
<path fill="#960000" d="M1600.4,347.4 L1593.7,332.0 Q1600.4,336.0 1607.1000000000001,332.0 Z"/>
<path fill="#ff8080" d="M1853.0,284.0 L1846.3,299.4 Q1853.0,295.4 1859.7,299.4 Z"/>
</g>
<g id="axes" stroke="#000" fill="none">
<rect x="835.6" y="55.6" width="1086.6999999999998" height="561.3" stroke-width="2.7"/>
<line x1="1378.8" y1="55.6" x2="1378.8" y2="616.9" stroke-width="2.7"/>
<line x1="955.8" y1="55.6" x2="955.8" y2="61.800000000000004" stroke-width="2"/>
<line x1="955.8" y1="616.9" x2="955.8" y2="610.6999999999999" stroke-width="2"/>
<line x1="1076.0" y1="55.6" x2="1076.0" y2="61.800000000000004" stroke-width="2"/>
<line x1="1076.0" y1="616.9" x2="1076.0" y2="610.6999999999999" stroke-width="2"/>
<line x1="1196.2" y1="55.6" x2="1196.2" y2="61.800000000000004" stroke-width="2"/>
<line x1="1196.2" y1="616.9" x2="1196.2" y2="610.6999999999999" stroke-width="2"/>
<line x1="1316.4" y1="55.6" x2="1316.4" y2="61.800000000000004" stroke-width="2"/>
<line x1="1316.4" y1="616.9" x2="1316.4" y2="610.6999999999999" stroke-width="2"/>
<line x1="1487.5" y1="55.6" x2="1487.5" y2="61.800000000000004" stroke-width="2"/>
<line x1="1487.5" y1="616.9" x2="1487.5" y2="610.6999999999999" stroke-width="2"/>
<line x1="1596.2" y1="55.6" x2="1596.2" y2="61.800000000000004" stroke-width="2"/>
<line x1="1596.2" y1="616.9" x2="1596.2" y2="610.6999999999999" stroke-width="2"/>
<line x1="1704.9" y1="55.6" x2="1704.9" y2="61.800000000000004" stroke-width="2"/>
<line x1="1704.9" y1="616.9" x2="1704.9" y2="610.6999999999999" stroke-width="2"/>
<line x1="1813.6" y1="55.6" x2="1813.6" y2="61.800000000000004" stroke-width="2"/>
<line x1="1813.6" y1="616.9" x2="1813.6" y2="610.6999999999999" stroke-width="2"/>
<line x1="835.6" y1="543.4" x2="841.8000000000001" y2="543.4" stroke-width="2"/>
<line x1="1372.6" y1="543.4" x2="1385.0" y2="543.4" stroke-width="2"/>
<line x1="1916.1" y1="543.4" x2="1922.3" y2="543.4" stroke-width="2"/>
<line x1="835.6" y1="421.4" x2="841.8000000000001" y2="421.4" stroke-width="2"/>
<line x1="1372.6" y1="421.4" x2="1385.0" y2="421.4" stroke-width="2"/>
<line x1="1916.1" y1="421.4" x2="1922.3" y2="421.4" stroke-width="2"/>
<line x1="835.6" y1="299.4" x2="841.8000000000001" y2="299.4" stroke-width="2"/>
<line x1="1372.6" y1="299.4" x2="1385.0" y2="299.4" stroke-width="2"/>
<line x1="1916.1" y1="299.4" x2="1922.3" y2="299.4" stroke-width="2"/>
<line x1="835.6" y1="177.4" x2="841.8000000000001" y2="177.4" stroke-width="2"/>
<line x1="1372.6" y1="177.4" x2="1385.0" y2="177.4" stroke-width="2"/>
<line x1="1916.1" y1="177.4" x2="1922.3" y2="177.4" stroke-width="2"/>
</g>
<g id="labels" fill="#000">
<text class="pl" x="703.8" y="31.6">d</text>
<text class="pl" x="1392.4" y="31.6">e</text>
<text class="tk" text-anchor="end" x="827.8" y="67.4">20</text>
<text class="tk" text-anchor="end" x="827.8" y="189.4">15</text>
<text class="tk" text-anchor="end" x="827.8" y="311.4">10</text>
<text class="tk" text-anchor="end" x="827.8" y="433.4">5</text>
<text class="tk" text-anchor="end" x="827.8" y="555.4">0</text>
<text class="tk" x="798.6" y="654.3">–180</text>
<text class="tk" x="918.5" y="654.3">–160</text>
<text class="tk" x="1034.4" y="654.3">–140</text>
<text class="tk" x="1156.2" y="654.3">–120</text>
<text class="tk" x="1271.5" y="654.3">–100</text>
<text class="tk" x="1374.3" y="654.3">0</text>
<text class="tk" x="1458.9" y="654.3">0.05</text>
<text class="tk" x="1561.2" y="654.3">0.10</text>
<text class="tk" x="1670.8" y="654.3">0.15</text>
<text class="tk" x="1779.3" y="654.3">0.20</text>
<text class="tk" x="1872.3" y="654.3">0.25</text>
<text class="tk" text-anchor="middle" x="1108" y="696.9">Rydberg laser detuning</text>
<text class="tk" text-anchor="middle" x="1652.5" y="696.9">Terahertz electric field</text>
<text class="ser" x="1008.4" y="736.5" style="font-size:28px" transform="translate(1008.4,0) scale(1.12,1) translate(-1008.4,0)">Δ</text>
<text x="1029.2" y="745.3" style="font-size:23.3px">R</text>
<text class="tk" x="1052.4" y="736.5" font-style="italic">/</text>
<text class="tk" x="1067.8" y="736.5" font-style="italic">2</text>
<text class="ser" x="1089.5" y="736.5" font-style="italic" style="font-size:34px">π</text>
<text class="tk" x="1114.8" y="736.5">(MHz)</text>
<text class="tk" x="1511.6" y="736.5">amplitude (V cm</text>
<text x="1753.4" y="724.3" style="font-size:22px">–1</text>
<text class="tk" x="1778" y="736.5">)</text>
<text class="tk" text-anchor="middle" transform="translate(733.3,337) rotate(-90)">Fractional transmission</text>
<text class="tk" text-anchor="middle" transform="translate(772.6,337.5) rotate(-90)">change, <tspan font-style="italic">t</tspan>(%)</text>
<text class="ser" x="1101.6" y="249" style="font-size:34px" font-style="italic">δ</text>
<text x="1117.7" y="258.6" style="font-size:25px">–</text>
<text class="tk" x="1135.2" y="249" font-style="italic">/2</text>
<text class="ser" x="1166.3" y="249" font-style="italic" style="font-size:34px">π</text>
<text class="ser" x="1166.2" y="322.6" style="font-size:34px" font-style="italic">δ</text>
<text x="1182.2" y="334" style="font-size:25px">+</text>
<text class="tk" x="1200.6" y="322.6" font-style="italic">/2</text>
<text class="ser" x="1231.8" y="322.6" font-style="italic" style="font-size:34px">π</text>
<text class="ser" x="975.0" y="605.2" style="font-size:29px" transform="translate(975.0,0) scale(1.1,1) translate(-975.0,0)">Δ</text>
<text class="ser" x="993.5" y="603" style="font-size:29px">′</text>
<text x="994.5" y="611.5" style="font-size:24px">–</text>
<text class="ser" x="1010.0" y="605.2" style="font-size:29px" transform="translate(1010.0,0) scale(1.1,1) translate(-1010.0,0)">Δ</text>
<text class="ser" x="1028.5" y="603" style="font-size:29px">′</text>
<text x="1030.3" y="613.6" style="font-size:25px">+</text>
<text class="ser" x="1079.0" y="605.2" style="font-size:29px" transform="translate(1079.0,0) scale(1.1,1) translate(-1079.0,0)">Δ</text>
<text x="1098.2" y="609.5" style="font-size:24px">–</text>
<text class="ser" x="1301.4" y="600" style="font-size:29px" transform="translate(1301.4,0) scale(1.1,1) translate(-1301.4,0)">Δ</text>
<text x="1320.6" y="608.5" style="font-size:25px">+</text>
</g>
</svg></body></html>
